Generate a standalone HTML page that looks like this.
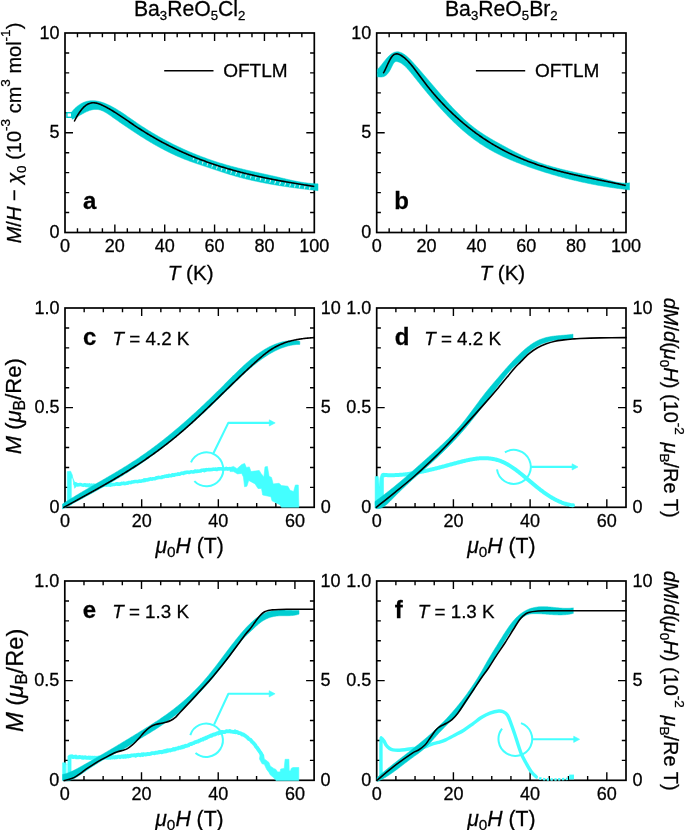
<!DOCTYPE html>
<html><head><meta charset="utf-8"><style>
html,body{margin:0;padding:0;background:#fff;width:685px;height:830px;overflow:hidden}
svg{display:block;will-change:transform}
text{stroke:#000;stroke-width:0.28px;paint-order:stroke}
</style></head><body>
<svg width="685" height="830" viewBox="0 0 685 830" font-family='"Liberation Sans", sans-serif'><rect width="685" height="830" fill="#fff"/><path d="M77.47 232.50v-4.20M77.47 33.00v4.20M89.93 232.50v-4.20M89.93 33.00v4.20M102.40 232.50v-4.20M102.40 33.00v4.20M114.86 232.50v-8.00M114.86 33.00v8.00M127.33 232.50v-4.20M127.33 33.00v4.20M139.79 232.50v-4.20M139.79 33.00v4.20M152.25 232.50v-4.20M152.25 33.00v4.20M164.72 232.50v-8.00M164.72 33.00v8.00M177.19 232.50v-4.20M177.19 33.00v4.20M189.65 232.50v-4.20M189.65 33.00v4.20M202.12 232.50v-4.20M202.12 33.00v4.20M214.58 232.50v-8.00M214.58 33.00v8.00M227.04 232.50v-4.20M227.04 33.00v4.20M239.51 232.50v-4.20M239.51 33.00v4.20M251.97 232.50v-4.20M251.97 33.00v4.20M264.44 232.50v-8.00M264.44 33.00v8.00M276.90 232.50v-4.20M276.90 33.00v4.20M289.37 232.50v-4.20M289.37 33.00v4.20M301.84 232.50v-4.20M301.84 33.00v4.20M65.00 212.55h4.20M314.30 212.55h-4.20M65.00 192.60h4.20M314.30 192.60h-4.20M65.00 172.65h4.20M314.30 172.65h-4.20M65.00 152.70h4.20M314.30 152.70h-4.20M65.00 132.75h8.00M314.30 132.75h-8.00M65.00 112.80h4.20M314.30 112.80h-4.20M65.00 92.85h4.20M314.30 92.85h-4.20M65.00 72.90h4.20M314.30 72.90h-4.20M65.00 52.95h4.20M314.30 52.95h-4.20" stroke="#000" stroke-width="1.4" fill="none"/><rect x="65.00" y="33.00" width="249.30" height="199.50" stroke="#000" stroke-width="1.7" fill="none"/><path d="M389.16 232.50v-4.20M389.16 33.00v4.20M401.63 232.50v-4.20M401.63 33.00v4.20M414.09 232.50v-4.20M414.09 33.00v4.20M426.56 232.50v-8.00M426.56 33.00v8.00M439.02 232.50v-4.20M439.02 33.00v4.20M451.49 232.50v-4.20M451.49 33.00v4.20M463.95 232.50v-4.20M463.95 33.00v4.20M476.42 232.50v-8.00M476.42 33.00v8.00M488.88 232.50v-4.20M488.88 33.00v4.20M501.35 232.50v-4.20M501.35 33.00v4.20M513.82 232.50v-4.20M513.82 33.00v4.20M526.28 232.50v-8.00M526.28 33.00v8.00M538.75 232.50v-4.20M538.75 33.00v4.20M551.21 232.50v-4.20M551.21 33.00v4.20M563.67 232.50v-4.20M563.67 33.00v4.20M576.14 232.50v-8.00M576.14 33.00v8.00M588.61 232.50v-4.20M588.61 33.00v4.20M601.07 232.50v-4.20M601.07 33.00v4.20M613.53 232.50v-4.20M613.53 33.00v4.20M376.70 212.55h4.20M626.00 212.55h-4.20M376.70 192.60h4.20M626.00 192.60h-4.20M376.70 172.65h4.20M626.00 172.65h-4.20M376.70 152.70h4.20M626.00 152.70h-4.20M376.70 132.75h8.00M626.00 132.75h-8.00M376.70 112.80h4.20M626.00 112.80h-4.20M376.70 92.85h4.20M626.00 92.85h-4.20M376.70 72.90h4.20M626.00 72.90h-4.20M376.70 52.95h4.20M626.00 52.95h-4.20" stroke="#000" stroke-width="1.4" fill="none"/><rect x="376.70" y="33.00" width="249.30" height="199.50" stroke="#000" stroke-width="1.7" fill="none"/><path d="M84.17 507.30v-4.20M84.17 308.00v4.20M103.34 507.30v-4.20M103.34 308.00v4.20M122.51 507.30v-4.20M122.51 308.00v4.20M141.68 507.30v-8.00M141.68 308.00v8.00M160.85 507.30v-4.20M160.85 308.00v4.20M180.02 507.30v-4.20M180.02 308.00v4.20M199.18 507.30v-4.20M199.18 308.00v4.20M218.35 507.30v-8.00M218.35 308.00v8.00M237.52 507.30v-4.20M237.52 308.00v4.20M256.69 507.30v-4.20M256.69 308.00v4.20M275.86 507.30v-4.20M275.86 308.00v4.20M295.03 507.30v-8.00M295.03 308.00v8.00M65.00 487.37h4.20M314.20 487.37h-4.20M65.00 467.44h4.20M314.20 467.44h-4.20M65.00 447.51h4.20M314.20 447.51h-4.20M65.00 427.58h4.20M314.20 427.58h-4.20M65.00 407.65h8.00M314.20 407.65h-8.00M65.00 387.72h4.20M314.20 387.72h-4.20M65.00 367.79h4.20M314.20 367.79h-4.20M65.00 347.86h4.20M314.20 347.86h-4.20M65.00 327.93h4.20M314.20 327.93h-4.20" stroke="#000" stroke-width="1.4" fill="none"/><rect x="65.00" y="308.00" width="249.20" height="199.30" stroke="#000" stroke-width="1.7" fill="none"/><path d="M395.88 507.30v-4.20M395.88 308.00v4.20M415.05 507.30v-4.20M415.05 308.00v4.20M434.23 507.30v-4.20M434.23 308.00v4.20M453.41 507.30v-8.00M453.41 308.00v8.00M472.58 507.30v-4.20M472.58 308.00v4.20M491.76 507.30v-4.20M491.76 308.00v4.20M510.94 507.30v-4.20M510.94 308.00v4.20M530.12 507.30v-8.00M530.12 308.00v8.00M549.29 507.30v-4.20M549.29 308.00v4.20M568.47 507.30v-4.20M568.47 308.00v4.20M587.65 507.30v-4.20M587.65 308.00v4.20M606.82 507.30v-8.00M606.82 308.00v8.00M376.70 487.37h4.20M626.00 487.37h-4.20M376.70 467.44h4.20M626.00 467.44h-4.20M376.70 447.51h4.20M626.00 447.51h-4.20M376.70 427.58h4.20M626.00 427.58h-4.20M376.70 407.65h8.00M626.00 407.65h-8.00M376.70 387.72h4.20M626.00 387.72h-4.20M376.70 367.79h4.20M626.00 367.79h-4.20M376.70 347.86h4.20M626.00 347.86h-4.20M376.70 327.93h4.20M626.00 327.93h-4.20" stroke="#000" stroke-width="1.4" fill="none"/><rect x="376.70" y="308.00" width="249.30" height="199.30" stroke="#000" stroke-width="1.7" fill="none"/><path d="M83.98 780.30v-4.20M83.98 581.00v4.20M103.15 780.30v-4.20M103.15 581.00v4.20M122.33 780.30v-4.20M122.33 581.00v4.20M141.51 780.30v-8.00M141.51 581.00v8.00M160.68 780.30v-4.20M160.68 581.00v4.20M179.86 780.30v-4.20M179.86 581.00v4.20M199.04 780.30v-4.20M199.04 581.00v4.20M218.22 780.30v-8.00M218.22 581.00v8.00M237.39 780.30v-4.20M237.39 581.00v4.20M256.57 780.30v-4.20M256.57 581.00v4.20M275.75 780.30v-4.20M275.75 581.00v4.20M294.92 780.30v-8.00M294.92 581.00v8.00M64.80 760.37h4.20M314.10 760.37h-4.20M64.80 740.44h4.20M314.10 740.44h-4.20M64.80 720.51h4.20M314.10 720.51h-4.20M64.80 700.58h4.20M314.10 700.58h-4.20M64.80 680.65h8.00M314.10 680.65h-8.00M64.80 660.72h4.20M314.10 660.72h-4.20M64.80 640.79h4.20M314.10 640.79h-4.20M64.80 620.86h4.20M314.10 620.86h-4.20M64.80 600.93h4.20M314.10 600.93h-4.20" stroke="#000" stroke-width="1.4" fill="none"/><rect x="64.80" y="581.00" width="249.30" height="199.30" stroke="#000" stroke-width="1.7" fill="none"/><path d="M395.88 780.30v-4.20M395.88 581.00v4.20M415.05 780.30v-4.20M415.05 581.00v4.20M434.23 780.30v-4.20M434.23 581.00v4.20M453.41 780.30v-8.00M453.41 581.00v8.00M472.58 780.30v-4.20M472.58 581.00v4.20M491.76 780.30v-4.20M491.76 581.00v4.20M510.94 780.30v-4.20M510.94 581.00v4.20M530.12 780.30v-8.00M530.12 581.00v8.00M549.29 780.30v-4.20M549.29 581.00v4.20M568.47 780.30v-4.20M568.47 581.00v4.20M587.65 780.30v-4.20M587.65 581.00v4.20M606.82 780.30v-8.00M606.82 581.00v8.00M376.70 760.37h4.20M626.00 760.37h-4.20M376.70 740.44h4.20M626.00 740.44h-4.20M376.70 720.51h4.20M626.00 720.51h-4.20M376.70 700.58h4.20M626.00 700.58h-4.20M376.70 680.65h8.00M626.00 680.65h-8.00M376.70 660.72h4.20M626.00 660.72h-4.20M376.70 640.79h4.20M626.00 640.79h-4.20M376.70 620.86h4.20M626.00 620.86h-4.20M376.70 600.93h4.20M626.00 600.93h-4.20" stroke="#000" stroke-width="1.4" fill="none"/><rect x="376.70" y="581.00" width="249.30" height="199.30" stroke="#000" stroke-width="1.7" fill="none"/><path d="M67.30 505.00 L67.30 471.60 L70.60 471.20 L72.30 475.00 L73.60 483.00 L74.60 488.30 L76.30 486.60 L76.30 482.60 L74.80 482.40 L72.20 477.00 L71.30 479.00 L71.30 505.00Z" fill="#44FFFF" stroke="#44FFFF" stroke-width="0.6" stroke-linejoin="round"/><path d="M75.00 483.86 L75.75 484.58 L76.50 484.36 L77.26 484.70 L78.01 485.01 L78.76 484.68 L79.51 484.72 L80.27 484.40 L81.02 484.64 L81.77 484.91 L82.52 485.13 L83.28 485.29 L84.03 484.96 L84.78 484.72 L85.53 484.96 L86.29 485.56 L87.04 484.96 L87.79 485.21 L88.54 485.67 L89.30 484.88 L90.05 485.41 L90.80 485.75 L91.55 485.11 L92.31 485.41 L93.06 485.74 L93.81 485.05 L94.56 485.40 L95.32 485.60 L96.07 485.52 L96.82 485.33 L97.57 485.09 L98.33 485.33 L99.08 485.21 L99.83 485.28 L100.58 485.16 L101.33 485.56 L102.09 485.47 L102.84 485.03 L103.59 485.23 L104.34 484.92 L105.10 485.04 L105.85 484.91 L106.60 485.14 L107.35 484.84 L108.11 484.87 L108.86 485.05 L109.61 484.72 L110.36 485.11 L111.12 484.40 L111.87 484.84 L112.62 484.49 L113.37 484.43 L114.13 484.55 L114.88 484.38 L115.63 484.21 L116.38 483.76 L117.14 483.77 L117.89 484.24 L118.64 483.99 L119.39 484.07 L120.15 484.22 L120.90 483.88 L121.65 483.23 L122.40 483.37 L123.16 483.53 L123.91 483.12 L124.66 483.68 L125.41 483.56 L126.17 483.38 L126.92 482.94 L127.67 483.17 L128.42 482.42 L129.17 482.48 L129.93 482.51 L130.68 482.65 L131.43 482.31 L132.18 481.89 L132.94 481.96 L133.69 481.83 L134.44 481.69 L135.19 481.45 L135.95 481.56 L136.70 481.47 L137.45 481.65 L138.20 481.54 L138.96 481.18 L139.71 481.00 L140.46 481.16 L141.21 481.13 L141.97 480.81 L142.72 480.80 L143.47 480.80 L144.22 479.86 L144.98 480.48 L145.73 479.81 L146.48 479.86 L147.23 480.02 L147.99 479.81 L148.74 479.17 L149.49 479.49 L150.24 478.83 L151.00 478.95 L151.75 479.23 L152.50 478.74 L153.25 478.76 L154.00 478.74 L154.76 478.69 L155.51 478.49 L156.26 477.68 L157.01 477.91 L157.77 477.81 L158.52 477.31 L159.27 477.61 L160.02 477.53 L160.78 477.59 L161.53 477.55 L162.28 476.68 L163.03 476.63 L163.79 476.88 L164.54 476.26 L165.29 476.21 L166.04 476.39 L166.80 475.88 L167.55 476.30 L168.30 476.22 L169.05 475.35 L169.81 475.66 L170.56 475.76 L171.31 475.78 L172.06 475.02 L172.82 474.78 L173.57 475.29 L174.32 475.18 L175.07 474.41 L175.83 474.49 L176.58 474.61 L177.33 474.59 L178.08 473.85 L178.83 474.17 L179.59 474.16 L180.34 473.80 L181.09 473.33 L181.84 473.08 L182.60 473.18 L183.35 473.53 L184.10 472.72 L184.85 472.56 L185.61 472.75 L186.36 472.37 L187.11 472.32 L187.86 472.09 L188.62 472.42 L189.37 472.46 L190.12 472.10 L190.87 471.72 L191.63 471.79 L192.38 471.91 L193.13 472.12 L193.88 472.05 L194.64 471.27 L195.39 470.96 L196.14 471.59 L196.89 471.57 L197.65 471.05 L198.40 471.23 L199.15 471.22 L199.90 470.89 L200.66 471.04 L201.41 470.18 L202.16 470.31 L202.91 470.23 L203.67 470.00 L204.42 470.63 L205.17 469.75 L205.92 470.25 L206.67 469.63 L207.43 469.81 L208.18 469.79 L208.93 469.50 L209.68 469.73 L210.44 469.68 L211.19 469.42 L211.94 469.73 L212.69 469.15 L213.45 469.12 L214.20 469.21 L214.95 469.17 L215.70 468.97 L216.46 469.56 L217.21 469.43 L217.96 468.73 L218.71 468.93 L219.47 468.76 L220.22 468.92 L220.97 468.73 L221.72 468.90 L222.48 469.25 L223.23 468.74 L223.98 468.96 L224.73 468.89 L225.49 469.01 L226.24 468.38 L226.99 468.98 L227.74 469.15 L228.50 468.84 L229.25 468.55 L230.00 468.90" stroke="#44FFFF" stroke-width="3.5" fill="none" stroke-linejoin="round" stroke-linecap="round" /><path d="M230.00 467.50 L233.50 466.40 L237.00 468.70 L241.70 464.60 L244.60 463.40 L246.40 467.50 L249.30 466.90 L251.00 471.60 L259.20 470.40 L261.00 473.40 L263.90 476.90 L265.00 466.90 L267.40 466.40 L269.10 476.30 L271.50 477.40 L273.20 483.90 L279.00 483.30 L281.40 485.60 L287.80 486.20 L290.10 490.30 L293.60 491.50 L295.40 485.00 L298.30 485.00 L298.90 507.20 L281.40 507.20 L280.20 504.90 L272.00 500.80 L270.90 496.70 L262.70 495.00 L261.50 488.50 L258.00 488.50 L255.10 483.90 L248.70 480.40 L246.90 486.20 L244.60 486.80 L243.40 476.90 L241.70 473.40 L237.60 473.90 L233.50 471.60 L230.00 471.60Z" fill="#44FFFF" stroke="#44FFFF" stroke-width="0.6" stroke-linejoin="round"/><path d="M191.00 462.35 A16.9 16.9 0 1 1 194.35 481.15" stroke="#44FFFF" stroke-width="2.0" fill="none"/><path d="M213.30 453.50 L228.30 422.90 L269.80 422.90" stroke="#44FFFF" stroke-width="2.1" fill="none" stroke-linejoin="round" stroke-linecap="butt" /><path d="M269.30 426.00 L275.20 422.90 L269.30 419.80 Z" fill="#44FFFF" stroke="#44FFFF" stroke-width="0.6" stroke-linejoin="round"/><path d="M375.20 505.00 L375.20 476.50 L378.20 476.50 L379.30 487.50 L379.90 478.00 L381.40 474.00 L384.20 473.00 L384.20 477.30 L383.50 477.60 L383.50 503.00 L378.50 505.00Z" fill="#44FFFF" stroke="#44FFFF" stroke-width="0.6" stroke-linejoin="round"/><path d="M383.20 474.91 L383.95 474.97 L384.70 475.01 L385.45 475.05 L386.20 475.09 L386.95 475.12 L387.70 475.15 L388.45 475.17 L389.20 475.18 L389.95 475.19 L390.70 475.19 L391.45 475.19 L392.20 475.19 L392.95 475.18 L393.70 475.16 L394.45 475.14 L395.20 475.12 L395.95 475.09 L396.70 475.05 L397.45 475.01 L398.20 474.97 L398.95 474.92 L399.70 474.87 L400.45 474.81 L401.20 474.75 L401.95 474.69 L402.71 474.62 L403.46 474.54 L404.21 474.47 L404.96 474.39 L405.71 474.30 L406.46 474.21 L407.21 474.12 L407.96 474.02 L408.71 473.92 L409.46 473.82 L410.21 473.71 L410.96 473.60 L411.71 473.49 L412.46 473.37 L413.21 473.25 L413.96 473.13 L414.71 473.00 L415.46 472.87 L416.21 472.74 L416.96 472.61 L417.71 472.47 L418.46 472.33 L419.21 472.18 L419.96 472.04 L420.71 471.89 L421.46 471.74 L422.21 471.58 L422.96 471.43 L423.71 471.27 L424.46 471.11 L425.21 470.94 L425.96 470.78 L426.71 470.61 L427.46 470.44 L428.21 470.27 L428.96 470.09 L429.71 469.92 L430.46 469.74 L431.21 469.56 L431.96 469.38 L432.71 469.20 L433.46 469.01 L434.21 468.83 L434.96 468.64 L435.71 468.45 L436.46 468.26 L437.21 468.07 L437.96 467.88 L438.71 467.69 L439.46 467.49 L440.22 467.30 L440.97 467.10 L441.72 466.90 L442.47 466.70 L443.22 466.51 L443.97 466.31 L444.72 466.11 L445.47 465.90 L446.22 465.70 L446.97 465.50 L447.72 465.30 L448.47 465.10 L449.22 464.90 L449.97 464.69 L450.72 464.49 L451.47 464.29 L452.22 464.08 L452.97 463.88 L453.72 463.68 L454.47 463.48 L455.22 463.27 L455.97 463.07 L456.72 462.87 L457.47 462.67 L458.22 462.47 L458.97 462.27 L459.72 462.08 L460.47 461.88 L461.22 461.69 L461.97 461.50 L462.72 461.31 L463.47 461.13 L464.22 460.95 L464.97 460.77 L465.72 460.59 L466.47 460.42 L467.22 460.26 L467.97 460.10 L468.72 459.94 L469.47 459.79 L470.22 459.64 L470.97 459.50 L471.72 459.36 L472.47 459.23 L473.22 459.11 L473.97 458.99 L474.72 458.88 L475.47 458.78 L476.22 458.68 L476.97 458.59 L477.72 458.51 L478.48 458.44 L479.23 458.37 L479.98 458.32 L480.73 458.27 L481.48 458.23 L482.23 458.20 L482.98 458.18 L483.73 458.17 L484.48 458.17 L485.23 458.18 L485.98 458.20 L486.73 458.24 L487.48 458.28 L488.23 458.33 L488.98 458.40 L489.73 458.47 L490.48 458.56 L491.23 458.66 L491.98 458.78 L492.73 458.91 L493.48 459.05 L494.23 459.20 L494.98 459.37 L495.73 459.55 L496.48 459.74 L497.23 459.95 L497.98 460.17 L498.73 460.41 L499.48 460.67 L500.23 460.93 L500.98 461.22 L501.73 461.52 L502.48 461.84 L503.23 462.17 L503.98 462.52 L504.73 462.88 L505.48 463.26 L506.23 463.66 L506.98 464.07 L507.73 464.50 L508.48 464.94 L509.23 465.39 L509.98 465.85 L510.73 466.33 L511.48 466.82 L512.23 467.32 L512.98 467.83 L513.73 468.35 L514.48 468.88 L515.23 469.43 L515.98 469.98 L516.74 470.53 L517.49 471.10 L518.24 471.67 L518.99 472.26 L519.74 472.84 L520.49 473.44 L521.24 474.04 L521.99 474.64 L522.74 475.25 L523.49 475.87 L524.24 476.48 L524.99 477.11 L525.74 477.73 L526.49 478.36 L527.24 478.98 L527.99 479.61 L528.74 480.24 L529.49 480.87 L530.24 481.50 L530.99 482.13 L531.74 482.76 L532.49 483.39 L533.24 484.02 L533.99 484.64 L534.74 485.26 L535.49 485.88 L536.24 486.49 L536.99 487.10 L537.74 487.71 L538.49 488.31 L539.24 488.90 L539.99 489.49 L540.74 490.07 L541.49 490.64 L542.24 491.21 L542.99 491.76 L543.74 492.31 L544.49 492.85 L545.24 493.38 L545.99 493.91 L546.74 494.42 L547.49 494.93 L548.24 495.42 L548.99 495.91 L549.74 496.38 L550.49 496.85 L551.24 497.30 L551.99 497.74 L552.74 498.18 L553.49 498.60 L554.25 499.01 L555.00 499.42 L555.75 499.81 L556.50 500.19 L557.25 500.55 L558.00 500.91 L558.75 501.25 L559.50 501.58 L560.25 501.90 L561.00 502.21 L561.75 502.51 L562.50 502.79 L563.25 503.06 L564.00 503.31 L564.75 503.55 L565.50 503.78 L566.25 504.00 L567.00 504.20 L567.75 504.39 L568.50 504.56 L569.25 504.72 L570.00 504.87 L570.75 505.00 L571.50 505.11 L572.25 505.21 L573.00 505.30" stroke="#44FFFF" stroke-width="4.0" fill="none" stroke-linejoin="round" stroke-linecap="round" /><path d="M504.92 452.41 A17.0 17.0 0 1 1 496.99 469.44" stroke="#44FFFF" stroke-width="2.0" fill="none"/><path d="M530.80 466.90 L572.60 466.90" stroke="#44FFFF" stroke-width="2.1" fill="none" stroke-linejoin="round" stroke-linecap="butt" /><path d="M572.10 470.00 L578.00 466.90 L572.10 463.80 Z" fill="#44FFFF" stroke="#44FFFF" stroke-width="0.6" stroke-linejoin="round"/><path d="M62.60 780.00 L62.60 762.80 L65.80 762.80 L65.80 764.30 L67.90 764.30 L67.90 756.00 L70.00 754.80 L72.00 755.50 L71.10 759.00 L71.10 776.00 L67.90 778.00 L65.80 780.00Z" fill="#44FFFF" stroke="#44FFFF" stroke-width="0.6" stroke-linejoin="round"/><rect x="65.8" y="764.3" width="2.1" height="14" fill="#aaffff"/><path d="M70.50 756.61 L71.25 756.64 L72.00 756.26 L72.75 757.09 L73.50 757.15 L74.25 756.74 L75.01 756.96 L75.76 756.53 L76.51 757.45 L77.26 757.36 L78.01 757.26 L78.76 757.42 L79.51 756.96 L80.26 757.12 L81.01 757.12 L81.76 757.48 L82.52 757.07 L83.27 757.83 L84.02 757.48 L84.77 757.50 L85.52 757.22 L86.27 757.78 L87.02 757.92 L87.77 757.78 L88.52 757.46 L89.27 757.97 L90.03 757.41 L90.78 758.04 L91.53 757.83 L92.28 757.58 L93.03 757.79 L93.78 757.90 L94.53 757.58 L95.28 758.11 L96.03 757.73 L96.78 758.15 L97.54 758.09 L98.29 757.43 L99.04 757.91 L99.79 757.60 L100.54 757.99 L101.29 757.78 L102.04 757.69 L102.79 758.07 L103.54 757.29 L104.29 757.72 L105.05 757.49 L105.80 757.20 L106.55 757.82 L107.30 757.62 L108.05 757.89 L108.80 757.59 L109.55 757.32 L110.30 757.87 L111.05 757.05 L111.80 756.95 L112.55 757.52 L113.31 757.15 L114.06 757.10 L114.81 757.52 L115.56 756.98 L116.31 757.43 L117.06 757.16 L117.81 756.83 L118.56 756.53 L119.31 756.64 L120.06 757.24 L120.82 756.68 L121.57 756.40 L122.32 756.46 L123.07 756.94 L123.82 756.22 L124.57 756.70 L125.32 756.06 L126.07 756.74 L126.82 756.28 L127.57 755.77 L128.33 756.50 L129.08 755.91 L129.83 756.18 L130.58 755.92 L131.33 755.46 L132.08 755.39 L132.83 755.35 L133.58 755.29 L134.33 755.11 L135.08 755.03 L135.84 755.76 L136.59 754.90 L137.34 755.20 L138.09 754.76 L138.84 754.77 L139.59 755.18 L140.34 755.25 L141.09 754.74 L141.84 754.24 L142.59 755.04 L143.35 754.10 L144.10 754.31 L144.85 754.36 L145.60 754.58 L146.35 754.43 L147.10 754.14 L147.85 753.85 L148.60 754.15 L149.35 754.08 L150.10 753.98 L150.85 753.74 L151.61 753.08 L152.36 753.16 L153.11 753.22 L153.86 753.12 L154.61 753.31 L155.36 752.66 L156.11 752.93 L156.86 752.55 L157.61 752.79 L158.36 752.15 L159.12 752.28 L159.87 751.82 L160.62 751.79 L161.37 752.31 L162.12 751.61 L162.87 752.00 L163.62 751.53 L164.37 750.95 L165.12 751.48 L165.87 750.67 L166.63 751.22 L167.38 750.33 L168.13 750.77 L168.88 750.16 L169.63 750.15 L170.38 750.54 L171.13 749.95 L171.88 749.93 L172.63 749.83 L173.38 749.08 L174.14 749.56 L174.89 749.44 L175.64 748.57 L176.39 748.73 L177.14 748.29 L177.89 748.51 L178.64 747.66 L179.39 747.89 L180.14 747.93 L180.89 747.66 L181.65 746.87 L182.40 747.30 L183.15 746.54 L183.90 746.82 L184.65 746.30 L185.40 745.76 L186.15 746.03 L186.90 745.84 L187.65 745.49 L188.40 745.47 L189.15 744.56 L189.91 744.28 L190.66 743.92 L191.41 744.00 L192.16 743.59 L192.91 743.26 L193.66 743.06 L194.41 742.59 L195.16 742.04 L195.91 742.15 L196.66 741.66 L197.42 741.50 L198.17 741.61 L198.92 740.61 L199.67 740.69 L200.42 740.37 L201.17 739.71 L201.92 739.55 L202.67 739.66 L203.42 738.77 L204.17 738.77 L204.93 738.55 L205.68 737.79 L206.43 738.03 L207.18 737.37 L207.93 736.94 L208.68 736.81 L209.43 736.24 L210.18 736.19 L210.93 735.49 L211.68 735.78 L212.44 735.14 L213.19 734.58 L213.94 734.48 L214.69 734.62 L215.44 734.27 L216.19 733.73 L216.94 733.36 L217.69 733.15 L218.44 733.47 L219.19 732.47 L219.95 732.97 L220.70 732.75 L221.45 732.00 L222.20 731.95 L222.95 731.99 L223.70 732.06 L224.45 732.07 L225.20 732.00 L225.95 731.27 L226.70 731.11 L227.45 731.31 L228.21 731.33 L228.96 731.39 L229.71 730.89 L230.46 731.39 L231.21 731.66 L231.96 731.70 L232.71 731.80 L233.46 731.87 L234.21 732.01 L234.96 731.32 L235.72 732.26 L236.47 731.85 L237.22 732.10 L237.97 732.44 L238.72 733.14 L239.47 733.10 L240.22 733.17 L240.97 733.51 L241.72 734.33 L242.47 734.64 L243.23 734.42 L243.98 734.95 L244.73 735.52 L245.48 735.87 L246.23 736.70 L246.98 736.94 L247.73 737.84 L248.48 738.77 L249.23 739.33 L249.98 739.33 L250.74 740.13 L251.49 741.05 L252.24 742.03 L252.99 742.61 L253.74 743.32 L254.49 744.28 L255.24 745.06 L255.99 746.60 L256.74 747.44 L257.49 748.20 L258.25 749.51 L259.00 750.45 L259.75 751.59 L260.50 752.62 L261.25 753.94 L262.00 755.64" stroke="#44FFFF" stroke-width="3.8" fill="none" stroke-linejoin="round" stroke-linecap="round" /><path d="M260.50 752.00 L262.00 752.60 L263.80 755.50 L264.30 759.00 L266.10 760.20 L269.00 762.50 L270.20 766.00 L273.70 768.40 L276.00 769.50 L277.50 771.90 L280.10 771.90 L280.70 769.00 L284.20 768.40 L285.10 759.30 L288.90 759.30 L289.20 770.70 L290.60 770.70 L291.20 768.40 L293.00 767.50 L298.80 767.50 L298.80 780.60 L276.00 780.60 L273.70 777.70 L270.20 774.80 L269.00 772.40 L266.70 769.50 L264.30 764.30 L262.00 763.70 L259.50 759.00Z" fill="#44FFFF" stroke="#44FFFF" stroke-width="0.6" stroke-linejoin="round"/><path d="M190.28 735.15 A16.7 16.7 0 1 1 195.49 753.01" stroke="#44FFFF" stroke-width="2.0" fill="none"/><path d="M214.10 724.60 L228.40 693.80 L269.70 693.80" stroke="#44FFFF" stroke-width="2.1" fill="none" stroke-linejoin="round" stroke-linecap="butt" /><path d="M269.20 696.90 L275.10 693.80 L269.20 690.70 Z" fill="#44FFFF" stroke="#44FFFF" stroke-width="0.6" stroke-linejoin="round"/><path d="M381.00 778.00 C381.00 772.00 380.87 748.60 381.00 742.00 C381.13 735.40 381.30 738.57 381.80 738.40 C382.30 738.23 383.27 739.87 384.00 741.00 C384.73 742.13 385.27 743.95 386.20 745.20 C387.13 746.45 388.48 747.72 389.60 748.50 C390.72 749.28 391.25 749.62 392.90 749.90 C394.55 750.18 397.30 750.27 399.50 750.20 C401.70 750.13 403.85 749.78 406.10 749.50 C408.35 749.22 410.68 748.78 413.00 748.50 C415.32 748.22 417.97 748.05 420.00 747.80 C422.03 747.55 423.22 747.62 425.20 747.00 C427.18 746.38 429.68 744.87 431.90 744.10 C434.12 743.33 436.30 743.07 438.50 742.40 C440.70 741.73 442.35 741.33 445.10 740.10 C447.85 738.87 451.88 736.65 455.00 735.00 C458.12 733.35 460.88 732.02 463.80 730.20 C466.72 728.38 469.58 726.22 472.50 724.10 C475.42 721.98 478.38 719.33 481.30 717.50 C484.22 715.67 487.08 714.18 490.00 713.10 C492.92 712.02 496.60 711.22 498.80 711.00 C501.00 710.78 501.75 711.08 503.20 711.80 C504.65 712.52 506.20 713.33 507.50 715.30 C508.80 717.27 509.75 720.32 511.00 723.60 C512.25 726.88 513.37 730.17 515.00 735.00 C516.63 739.83 518.95 747.92 520.80 752.60 C522.65 757.28 524.35 759.90 526.10 763.10 C527.85 766.30 529.65 769.55 531.30 771.80 C532.95 774.05 535.22 775.80 536.00 776.60" stroke="#44FFFF" stroke-width="3.4" fill="none" stroke-linejoin="round" stroke-linecap="round" /><path d="M536.00 776.60 C536.38 776.83 536.45 777.53 538.30 778.00 C540.15 778.47 543.88 779.17 547.10 779.40 C550.32 779.63 554.10 779.50 557.60 779.40 C561.10 779.30 566.35 778.90 568.10 778.80" stroke="#44FFFF" stroke-width="2.6" fill="none" stroke-linejoin="round" stroke-linecap="butt" stroke-dasharray="2.2 1.6"/><rect x="569.2" y="774.6" width="4.8" height="4.8" fill="#44FFFF"/><path d="M520.97 723.17 A16.85 16.85 0 1 1 502.07 728.68" stroke="#44FFFF" stroke-width="2.0" fill="none"/><path d="M532.20 739.30 L574.20 739.30" stroke="#44FFFF" stroke-width="2.1" fill="none" stroke-linejoin="round" stroke-linecap="butt" /><path d="M573.70 742.40 L579.60 739.30 L573.70 736.20 Z" fill="#44FFFF" stroke="#44FFFF" stroke-width="0.6" stroke-linejoin="round"/><path d="M72.00 111.53 L72.75 110.67 L73.50 109.84 L74.25 109.06 L75.00 108.31 L75.75 107.61 L76.50 106.94 L77.25 106.32 L78.00 105.73 L78.75 105.17 L79.50 104.66 L80.25 104.17 L81.00 103.73 L81.75 103.31 L82.50 102.93 L83.25 102.58 L84.00 102.27 L84.75 101.98 L85.50 101.73 L86.25 101.50 L87.00 101.31 L87.75 101.14 L88.50 101.00 L89.25 100.88 L90.00 100.79 L90.75 100.73 L91.50 100.69 L92.25 100.67 L93.00 100.68 L93.75 100.71 L94.50 100.76 L95.25 100.84 L96.00 100.93 L96.75 101.04 L97.50 101.17 L98.25 101.32 L99.00 101.49 L99.75 101.67 L100.50 101.87 L101.25 102.08 L102.00 102.31 L102.75 102.55 L103.50 102.81 L104.25 103.08 L105.00 103.37 L105.75 103.67 L106.50 103.98 L107.25 104.30 L108.00 104.64 L108.75 104.99 L109.50 105.35 L110.25 105.72 L111.00 106.10 L111.75 106.49 L112.50 106.89 L113.25 107.30 L114.00 107.72 L114.75 108.15 L115.50 108.59 L116.25 109.03 L117.00 109.49 L117.75 109.95 L118.50 110.41 L119.25 110.88 L120.00 111.36 L120.75 111.85 L121.50 112.34 L122.25 112.83 L123.00 113.33 L123.75 113.83 L124.50 114.34 L125.25 114.85 L126.00 115.36 L126.75 115.88 L127.50 116.39 L128.25 116.91 L129.00 117.43 L129.75 117.95 L130.50 118.48 L131.25 119.00 L132.00 119.52 L132.75 120.04 L133.50 120.56 L134.25 121.08 L135.00 121.60 L135.75 122.11 L136.50 122.63 L137.25 123.14 L138.00 123.65 L138.75 124.15 L139.50 124.65 L140.25 125.15 L141.00 125.65 L141.75 126.14 L142.50 126.63 L143.25 127.11 L144.00 127.60 L144.75 128.08 L145.50 128.56 L146.25 129.03 L147.00 129.50 L147.75 129.97 L148.50 130.44 L149.25 130.90 L150.00 131.36 L150.75 131.82 L151.50 132.27 L152.25 132.72 L153.00 133.17 L153.75 133.62 L154.50 134.06 L155.25 134.50 L156.00 134.94 L156.75 135.37 L157.50 135.81 L158.25 136.24 L159.00 136.66 L159.75 137.09 L160.50 137.51 L161.25 137.93 L162.00 138.34 L162.75 138.75 L163.50 139.16 L164.25 139.57 L165.00 139.98 L165.75 140.38 L166.50 140.78 L167.25 141.17 L168.00 141.57 L168.75 141.96 L169.50 142.35 L170.25 142.74 L171.00 143.12 L171.75 143.50 L172.50 143.88 L173.25 144.25 L174.00 144.63 L174.75 145.00 L175.50 145.37 L176.25 145.73 L177.00 146.09 L177.75 146.45 L178.50 146.81 L179.25 147.17 L180.00 147.52 L180.75 147.87 L181.50 148.22 L182.25 148.57 L183.00 148.91 L183.75 149.25 L184.50 149.59 L185.25 149.92 L186.00 150.26 L186.75 150.59 L187.50 150.92 L188.25 151.24 L189.00 151.57 L189.75 151.89 L190.50 152.21 L191.25 152.52 L192.00 152.84 L192.75 153.15 L193.50 153.46 L194.25 153.77 L195.00 154.07 L195.75 154.37 L196.50 154.67 L197.25 154.97 L198.00 155.27 L198.75 155.56 L199.50 155.85 L200.25 156.14 L201.00 156.43 L201.75 156.71 L202.50 156.99 L203.25 157.27 L204.00 157.55 L204.75 157.83 L205.50 158.10 L206.25 158.37 L207.00 158.64 L207.75 158.91 L208.50 159.17 L209.25 159.44 L210.00 159.70 L210.75 159.96 L211.50 160.21 L212.25 160.47 L213.00 160.72 L213.75 160.97 L214.50 161.22 L215.25 161.46 L216.00 161.71 L216.75 161.95 L217.50 162.19 L218.25 162.43 L219.00 162.66 L219.75 162.90 L220.50 163.13 L221.25 163.36 L222.00 163.59 L222.75 163.81 L223.50 164.04 L224.25 164.26 L225.00 164.48 L225.75 164.70 L226.50 164.92 L227.25 165.13 L228.00 165.34 L228.75 165.55 L229.50 165.76 L230.25 165.97 L231.00 166.17 L231.75 166.38 L232.50 166.58 L233.25 166.78 L234.00 166.98 L234.75 167.17 L235.50 167.37 L236.25 167.56 L237.00 167.75 L237.75 167.94 L238.50 168.13 L239.25 168.32 L240.00 168.51 L240.75 168.69 L241.50 168.87 L242.25 169.06 L243.00 169.24 L243.75 169.42 L244.50 169.60 L245.25 169.77 L246.00 169.95 L246.75 170.13 L247.50 170.30 L248.25 170.48 L249.00 170.65 L249.75 170.82 L250.50 170.99 L251.25 171.16 L252.00 171.33 L252.75 171.50 L253.50 171.67 L254.25 171.84 L255.00 172.01 L255.75 172.18 L256.50 172.34 L257.25 172.51 L258.00 172.68 L258.75 172.84 L259.50 173.01 L260.25 173.17 L261.00 173.34 L261.75 173.50 L262.50 173.67 L263.25 173.83 L264.00 174.00 L264.75 174.17 L265.50 174.33 L266.25 174.50 L267.00 174.66 L267.75 174.83 L268.50 174.99 L269.25 175.16 L270.00 175.33 L270.75 175.49 L271.50 175.66 L272.25 175.83 L273.00 176.00 L273.75 176.16 L274.50 176.33 L275.25 176.50 L276.00 176.67 L276.75 176.85 L277.50 177.02 L278.25 177.19 L279.00 177.36 L279.75 177.54 L280.50 177.71 L281.25 177.89 L282.00 178.07 L282.75 178.24 L283.50 178.42 L284.25 178.60 L285.00 178.78 L285.75 178.95 L286.50 179.13 L287.25 179.30 L288.00 179.48 L288.75 179.65 L289.50 179.82 L290.25 179.99 L291.00 180.16 L291.75 180.33 L292.50 180.49 L293.25 180.65 L294.00 180.81 L294.75 180.97 L295.50 181.12 L296.25 181.27 L297.00 181.42 L297.75 181.56 L298.50 181.70 L299.25 181.83 L300.00 181.96 L300.75 182.09 L301.50 182.21 L302.25 182.33 L303.00 182.45 L303.75 182.56 L304.50 182.67 L305.25 182.77 L306.00 182.87 L306.75 182.96 L307.50 183.05 L308.25 183.14 L309.00 183.22 L309.75 183.30 L310.50 183.37 L311.25 183.44 L312.00 183.51 L312.75 183.57 L313.50 183.62 L314.25 183.67 L315.00 183.72 L315.75 183.76 L316.50 183.80 L317.25 183.83 L318.00 183.86 L318.00 190.66 L317.25 190.57 L316.50 190.49 L315.75 190.41 L315.00 190.32 L314.25 190.24 L313.50 190.15 L312.75 190.07 L312.00 189.98 L311.25 189.89 L310.50 189.81 L309.75 189.72 L309.00 189.63 L308.25 189.54 L307.50 189.46 L306.75 189.37 L306.00 189.28 L305.25 189.19 L304.50 189.09 L303.75 189.00 L303.00 188.91 L302.25 188.82 L301.50 188.72 L300.75 188.63 L300.00 188.54 L299.25 188.44 L298.50 188.34 L297.75 188.25 L297.00 188.15 L296.25 188.05 L295.50 187.95 L294.75 187.85 L294.00 187.75 L293.25 187.65 L292.50 187.55 L291.75 187.45 L291.00 187.34 L290.25 187.24 L289.50 187.13 L288.75 187.03 L288.00 186.92 L287.25 186.81 L286.50 186.70 L285.75 186.59 L285.00 186.48 L284.25 186.37 L283.50 186.25 L282.75 186.14 L282.00 186.02 L281.25 185.91 L280.50 185.79 L279.75 185.67 L279.00 185.55 L278.25 185.43 L277.50 185.31 L276.75 185.19 L276.00 185.06 L275.25 184.94 L274.50 184.81 L273.75 184.68 L273.00 184.55 L272.25 184.42 L271.50 184.29 L270.75 184.16 L270.00 184.02 L269.25 183.89 L268.50 183.75 L267.75 183.61 L267.00 183.47 L266.25 183.33 L265.50 183.19 L264.75 183.05 L264.00 182.90 L263.25 182.76 L262.50 182.61 L261.75 182.46 L261.00 182.31 L260.25 182.16 L259.50 182.00 L258.75 181.85 L258.00 181.69 L257.25 181.53 L256.50 181.37 L255.75 181.21 L255.00 181.05 L254.25 180.88 L253.50 180.71 L252.75 180.55 L252.00 180.38 L251.25 180.20 L250.50 180.03 L249.75 179.86 L249.00 179.68 L248.25 179.50 L247.50 179.32 L246.75 179.14 L246.00 178.96 L245.25 178.77 L244.50 178.58 L243.75 178.39 L243.00 178.20 L242.25 178.01 L241.50 177.81 L240.75 177.62 L240.00 177.42 L239.25 177.22 L238.50 177.01 L237.75 176.81 L237.00 176.60 L236.25 176.39 L235.50 176.18 L234.75 175.97 L234.00 175.76 L233.25 175.54 L232.50 175.32 L231.75 175.10 L231.00 174.88 L230.25 174.65 L229.50 174.42 L228.75 174.19 L228.00 173.96 L227.25 173.73 L226.50 173.49 L225.75 173.26 L225.00 173.02 L224.25 172.78 L223.50 172.54 L222.75 172.29 L222.00 172.05 L221.25 171.80 L220.50 171.56 L219.75 171.31 L219.00 171.06 L218.25 170.82 L217.50 170.57 L216.75 170.32 L216.00 170.07 L215.25 169.82 L214.50 169.57 L213.75 169.32 L213.00 169.07 L212.25 168.82 L211.50 168.57 L210.75 168.32 L210.00 168.07 L209.25 167.82 L208.50 167.57 L207.75 167.32 L207.00 167.08 L206.25 166.83 L205.50 166.58 L204.75 166.33 L204.00 166.09 L203.25 165.84 L202.50 165.59 L201.75 165.34 L201.00 165.09 L200.25 164.84 L199.50 164.59 L198.75 164.33 L198.00 164.08 L197.25 163.82 L196.50 163.57 L195.75 163.31 L195.00 163.05 L194.25 162.79 L193.50 162.52 L192.75 162.26 L192.00 161.99 L191.25 161.72 L190.50 161.45 L189.75 161.18 L189.00 160.90 L188.25 160.62 L187.50 160.34 L186.75 160.06 L186.00 159.77 L185.25 159.48 L184.50 159.19 L183.75 158.89 L183.00 158.59 L182.25 158.29 L181.50 157.98 L180.75 157.67 L180.00 157.35 L179.25 157.04 L178.50 156.71 L177.75 156.39 L177.00 156.06 L176.25 155.72 L175.50 155.39 L174.75 155.05 L174.00 154.70 L173.25 154.35 L172.50 154.00 L171.75 153.65 L171.00 153.29 L170.25 152.92 L169.50 152.56 L168.75 152.19 L168.00 151.82 L167.25 151.44 L166.50 151.06 L165.75 150.68 L165.00 150.29 L164.25 149.90 L163.50 149.51 L162.75 149.11 L162.00 148.72 L161.25 148.31 L160.50 147.91 L159.75 147.50 L159.00 147.09 L158.25 146.68 L157.50 146.26 L156.75 145.84 L156.00 145.42 L155.25 144.99 L154.50 144.56 L153.75 144.13 L153.00 143.70 L152.25 143.26 L151.50 142.82 L150.75 142.38 L150.00 141.94 L149.25 141.49 L148.50 141.04 L147.75 140.59 L147.00 140.14 L146.25 139.68 L145.50 139.22 L144.75 138.76 L144.00 138.29 L143.25 137.83 L142.50 137.36 L141.75 136.89 L141.00 136.42 L140.25 135.94 L139.50 135.46 L138.75 134.98 L138.00 134.50 L137.25 134.02 L136.50 133.53 L135.75 133.05 L135.00 132.56 L134.25 132.07 L133.50 131.57 L132.75 131.08 L132.00 130.58 L131.25 130.08 L130.50 129.58 L129.75 129.08 L129.00 128.58 L128.25 128.07 L127.50 127.57 L126.75 127.06 L126.00 126.55 L125.25 126.04 L124.50 125.52 L123.75 125.01 L123.00 124.49 L122.25 123.97 L121.50 123.46 L120.75 122.94 L120.00 122.41 L119.25 121.89 L118.50 121.37 L117.75 120.84 L117.00 120.32 L116.25 119.79 L115.50 119.26 L114.75 118.73 L114.00 118.20 L113.25 117.67 L112.50 117.13 L111.75 116.60 L111.00 116.07 L110.25 115.54 L109.50 115.02 L108.75 114.50 L108.00 114.00 L107.25 113.51 L106.50 113.04 L105.75 112.59 L105.00 112.15 L104.25 111.74 L103.50 111.36 L102.75 111.00 L102.00 110.67 L101.25 110.38 L100.50 110.12 L99.75 109.90 L99.00 109.72 L98.25 109.58 L97.50 109.48 L96.75 109.42 L96.00 109.39 L95.25 109.40 L94.50 109.44 L93.75 109.52 L93.00 109.63 L92.25 109.77 L91.50 109.94 L90.75 110.14 L90.00 110.36 L89.25 110.61 L88.50 110.89 L87.75 111.19 L87.00 111.51 L86.25 111.85 L85.50 112.21 L84.75 112.59 L84.00 112.99 L83.25 113.40 L82.50 113.82 L81.75 114.25 L81.00 114.68 L80.25 115.12 L79.50 115.56 L78.75 115.99 L78.00 116.41 L77.25 116.83 L76.50 117.23 L75.75 117.61 L75.00 117.98 L74.25 118.33 L73.50 118.65 L72.75 118.94 L72.00 119.20 Z" fill="#00CED1" stroke="#00CED1" stroke-width="0.5" stroke-linejoin="round"/><rect x="66.9" y="112.7" width="4.8" height="4.6" stroke="#00CED1" stroke-width="1.4" fill="#fff"/><path d="M377.30 69.45 L378.05 68.76 L378.80 67.99 L379.55 67.17 L380.30 66.31 L381.05 65.40 L381.80 64.47 L382.55 63.52 L383.30 62.56 L384.06 61.59 L384.81 60.64 L385.56 59.70 L386.31 58.79 L387.06 57.92 L387.81 57.09 L388.56 56.32 L389.31 55.61 L390.06 54.95 L390.81 54.35 L391.56 53.82 L392.31 53.34 L393.06 52.93 L393.81 52.58 L394.56 52.29 L395.31 52.08 L396.06 51.92 L396.82 51.84 L397.57 51.82 L398.32 51.87 L399.07 51.99 L399.82 52.17 L400.57 52.40 L401.32 52.69 L402.07 53.04 L402.82 53.44 L403.57 53.88 L404.32 54.37 L405.07 54.91 L405.82 55.48 L406.57 56.09 L407.32 56.73 L408.07 57.41 L408.82 58.11 L409.58 58.85 L410.33 59.60 L411.08 60.37 L411.83 61.17 L412.58 61.98 L413.33 62.80 L414.08 63.63 L414.83 64.46 L415.58 65.30 L416.33 66.15 L417.08 67.00 L417.83 67.85 L418.58 68.71 L419.33 69.56 L420.08 70.42 L420.83 71.29 L421.59 72.15 L422.34 73.02 L423.09 73.89 L423.84 74.76 L424.59 75.64 L425.34 76.51 L426.09 77.39 L426.84 78.27 L427.59 79.15 L428.34 80.02 L429.09 80.90 L429.84 81.78 L430.59 82.66 L431.34 83.54 L432.09 84.42 L432.84 85.30 L433.59 86.18 L434.35 87.06 L435.10 87.94 L435.85 88.81 L436.60 89.69 L437.35 90.56 L438.10 91.43 L438.85 92.30 L439.60 93.17 L440.35 94.03 L441.10 94.89 L441.85 95.75 L442.60 96.61 L443.35 97.46 L444.10 98.31 L444.85 99.16 L445.60 100.00 L446.35 100.84 L447.11 101.67 L447.86 102.51 L448.61 103.33 L449.36 104.15 L450.11 104.97 L450.86 105.78 L451.61 106.59 L452.36 107.39 L453.11 108.19 L453.86 108.98 L454.61 109.77 L455.36 110.55 L456.11 111.32 L456.86 112.09 L457.61 112.85 L458.36 113.60 L459.11 114.35 L459.87 115.09 L460.62 115.83 L461.37 116.55 L462.12 117.27 L462.87 117.98 L463.62 118.69 L464.37 119.38 L465.12 120.07 L465.87 120.75 L466.62 121.42 L467.37 122.08 L468.12 122.74 L468.87 123.38 L469.62 124.02 L470.37 124.64 L471.12 125.26 L471.88 125.87 L472.63 126.47 L473.38 127.06 L474.13 127.64 L474.88 128.21 L475.63 128.77 L476.38 129.33 L477.13 129.88 L477.88 130.42 L478.63 130.96 L479.38 131.48 L480.13 132.00 L480.88 132.52 L481.63 133.03 L482.38 133.53 L483.13 134.02 L483.88 134.51 L484.64 134.99 L485.39 135.47 L486.14 135.94 L486.89 136.41 L487.64 136.87 L488.39 137.33 L489.14 137.78 L489.89 138.23 L490.64 138.68 L491.39 139.12 L492.14 139.55 L492.89 139.99 L493.64 140.42 L494.39 140.84 L495.14 141.27 L495.89 141.69 L496.64 142.11 L497.40 142.53 L498.15 142.94 L498.90 143.35 L499.65 143.77 L500.40 144.18 L501.15 144.58 L501.90 144.99 L502.65 145.40 L503.40 145.80 L504.15 146.21 L504.90 146.61 L505.65 147.02 L506.40 147.42 L507.15 147.83 L507.90 148.23 L508.65 148.63 L509.40 149.04 L510.16 149.44 L510.91 149.84 L511.66 150.23 L512.41 150.63 L513.16 151.03 L513.91 151.42 L514.66 151.81 L515.41 152.20 L516.16 152.59 L516.91 152.97 L517.66 153.35 L518.41 153.73 L519.16 154.10 L519.91 154.47 L520.66 154.84 L521.41 155.21 L522.16 155.57 L522.92 155.92 L523.67 156.27 L524.42 156.62 L525.17 156.97 L525.92 157.30 L526.67 157.64 L527.42 157.97 L528.17 158.29 L528.92 158.61 L529.67 158.93 L530.42 159.24 L531.17 159.55 L531.92 159.86 L532.67 160.15 L533.42 160.45 L534.17 160.74 L534.92 161.03 L535.68 161.31 L536.43 161.59 L537.18 161.87 L537.93 162.14 L538.68 162.41 L539.43 162.68 L540.18 162.94 L540.93 163.20 L541.68 163.46 L542.43 163.71 L543.18 163.96 L543.93 164.20 L544.68 164.44 L545.43 164.68 L546.18 164.92 L546.93 165.15 L547.69 165.39 L548.44 165.61 L549.19 165.84 L549.94 166.06 L550.69 166.28 L551.44 166.50 L552.19 166.71 L552.94 166.93 L553.69 167.14 L554.44 167.34 L555.19 167.55 L555.94 167.75 L556.69 167.95 L557.44 168.15 L558.19 168.35 L558.94 168.55 L559.69 168.74 L560.45 168.93 L561.20 169.12 L561.95 169.31 L562.70 169.49 L563.45 169.68 L564.20 169.86 L564.95 170.04 L565.70 170.22 L566.45 170.40 L567.20 170.58 L567.95 170.76 L568.70 170.93 L569.45 171.11 L570.20 171.28 L570.95 171.45 L571.70 171.62 L572.45 171.79 L573.21 171.96 L573.96 172.13 L574.71 172.30 L575.46 172.47 L576.21 172.64 L576.96 172.80 L577.71 172.97 L578.46 173.13 L579.21 173.30 L579.96 173.47 L580.71 173.63 L581.46 173.80 L582.21 173.96 L582.96 174.13 L583.71 174.29 L584.46 174.46 L585.21 174.62 L585.97 174.79 L586.72 174.95 L587.47 175.12 L588.22 175.29 L588.97 175.45 L589.72 175.62 L590.47 175.79 L591.22 175.96 L591.97 176.13 L592.72 176.30 L593.47 176.47 L594.22 176.64 L594.97 176.82 L595.72 176.99 L596.47 177.17 L597.22 177.34 L597.98 177.52 L598.73 177.70 L599.48 177.88 L600.23 178.06 L600.98 178.25 L601.73 178.43 L602.48 178.62 L603.23 178.81 L603.98 179.00 L604.73 179.19 L605.48 179.38 L606.23 179.58 L606.98 179.77 L607.73 179.97 L608.48 180.17 L609.23 180.37 L609.98 180.57 L610.74 180.77 L611.49 180.97 L612.24 181.16 L612.99 181.35 L613.74 181.53 L614.49 181.71 L615.24 181.88 L615.99 182.05 L616.74 182.21 L617.49 182.35 L618.24 182.49 L618.99 182.62 L619.74 182.73 L620.49 182.83 L621.24 182.92 L621.99 183.00 L622.74 183.06 L623.50 183.10 L624.25 183.13 L625.00 183.14 L625.75 183.13 L626.50 183.10 L627.25 183.05 L628.00 182.98 L628.75 182.89 L629.50 182.78 L629.50 189.90 L628.75 189.82 L628.00 189.73 L627.25 189.64 L626.50 189.55 L625.75 189.46 L625.00 189.37 L624.25 189.28 L623.50 189.19 L622.74 189.09 L621.99 189.00 L621.24 188.90 L620.49 188.80 L619.74 188.70 L618.99 188.60 L618.24 188.50 L617.49 188.39 L616.74 188.29 L615.99 188.18 L615.24 188.08 L614.49 187.97 L613.74 187.86 L612.99 187.75 L612.24 187.64 L611.49 187.52 L610.74 187.41 L609.98 187.29 L609.23 187.18 L608.48 187.06 L607.73 186.94 L606.98 186.82 L606.23 186.70 L605.48 186.58 L604.73 186.45 L603.98 186.33 L603.23 186.20 L602.48 186.07 L601.73 185.94 L600.98 185.81 L600.23 185.68 L599.48 185.55 L598.73 185.41 L597.98 185.28 L597.22 185.14 L596.47 185.00 L595.72 184.86 L594.97 184.72 L594.22 184.58 L593.47 184.44 L592.72 184.29 L591.97 184.15 L591.22 184.00 L590.47 183.85 L589.72 183.70 L588.97 183.55 L588.22 183.40 L587.47 183.24 L586.72 183.09 L585.97 182.93 L585.21 182.78 L584.46 182.62 L583.71 182.46 L582.96 182.29 L582.21 182.13 L581.46 181.97 L580.71 181.80 L579.96 181.63 L579.21 181.47 L578.46 181.30 L577.71 181.12 L576.96 180.95 L576.21 180.78 L575.46 180.60 L574.71 180.43 L573.96 180.25 L573.21 180.07 L572.45 179.89 L571.70 179.71 L570.95 179.52 L570.20 179.34 L569.45 179.15 L568.70 178.96 L567.95 178.77 L567.20 178.58 L566.45 178.39 L565.70 178.20 L564.95 178.00 L564.20 177.81 L563.45 177.61 L562.70 177.41 L561.95 177.21 L561.20 177.01 L560.45 176.80 L559.69 176.60 L558.94 176.39 L558.19 176.18 L557.44 175.98 L556.69 175.76 L555.94 175.55 L555.19 175.34 L554.44 175.12 L553.69 174.91 L552.94 174.69 L552.19 174.47 L551.44 174.25 L550.69 174.03 L549.94 173.80 L549.19 173.58 L548.44 173.35 L547.69 173.12 L546.93 172.89 L546.18 172.66 L545.43 172.43 L544.68 172.20 L543.93 171.96 L543.18 171.72 L542.43 171.48 L541.68 171.24 L540.93 171.00 L540.18 170.76 L539.43 170.51 L538.68 170.27 L537.93 170.02 L537.18 169.77 L536.43 169.52 L535.68 169.27 L534.92 169.01 L534.17 168.76 L533.42 168.50 L532.67 168.24 L531.92 167.98 L531.17 167.72 L530.42 167.46 L529.67 167.19 L528.92 166.93 L528.17 166.66 L527.42 166.39 L526.67 166.12 L525.92 165.84 L525.17 165.57 L524.42 165.29 L523.67 165.02 L522.92 164.74 L522.16 164.46 L521.41 164.17 L520.66 163.89 L519.91 163.60 L519.16 163.31 L518.41 163.02 L517.66 162.73 L516.91 162.43 L516.16 162.14 L515.41 161.84 L514.66 161.53 L513.91 161.23 L513.16 160.92 L512.41 160.61 L511.66 160.30 L510.91 159.98 L510.16 159.66 L509.40 159.34 L508.65 159.01 L507.90 158.68 L507.15 158.35 L506.40 158.02 L505.65 157.68 L504.90 157.33 L504.15 156.99 L503.40 156.64 L502.65 156.29 L501.90 155.93 L501.15 155.57 L500.40 155.21 L499.65 154.84 L498.90 154.47 L498.15 154.09 L497.40 153.71 L496.64 153.32 L495.89 152.93 L495.14 152.54 L494.39 152.14 L493.64 151.74 L492.89 151.33 L492.14 150.92 L491.39 150.50 L490.64 150.08 L489.89 149.66 L489.14 149.22 L488.39 148.79 L487.64 148.35 L486.89 147.90 L486.14 147.45 L485.39 146.99 L484.64 146.53 L483.88 146.06 L483.13 145.59 L482.38 145.11 L481.63 144.62 L480.88 144.13 L480.13 143.63 L479.38 143.13 L478.63 142.62 L477.88 142.11 L477.13 141.58 L476.38 141.06 L475.63 140.52 L474.88 139.98 L474.13 139.44 L473.38 138.89 L472.63 138.33 L471.88 137.76 L471.12 137.19 L470.37 136.61 L469.62 136.02 L468.87 135.43 L468.12 134.83 L467.37 134.22 L466.62 133.61 L465.87 132.99 L465.12 132.36 L464.37 131.73 L463.62 131.08 L462.87 130.44 L462.12 129.78 L461.37 129.12 L460.62 128.46 L459.87 127.78 L459.11 127.10 L458.36 126.42 L457.61 125.73 L456.86 125.03 L456.11 124.32 L455.36 123.61 L454.61 122.90 L453.86 122.17 L453.11 121.44 L452.36 120.71 L451.61 119.97 L450.86 119.22 L450.11 118.47 L449.36 117.71 L448.61 116.94 L447.86 116.17 L447.11 115.40 L446.35 114.61 L445.60 113.83 L444.85 113.03 L444.10 112.23 L443.35 111.43 L442.60 110.62 L441.85 109.80 L441.10 108.98 L440.35 108.15 L439.60 107.32 L438.85 106.49 L438.10 105.64 L437.35 104.80 L436.60 103.95 L435.85 103.09 L435.10 102.23 L434.35 101.37 L433.59 100.50 L432.84 99.62 L432.09 98.75 L431.34 97.87 L430.59 96.98 L429.84 96.09 L429.09 95.20 L428.34 94.30 L427.59 93.40 L426.84 92.50 L426.09 91.59 L425.34 90.68 L424.59 89.77 L423.84 88.85 L423.09 87.93 L422.34 87.01 L421.59 86.09 L420.83 85.16 L420.08 84.23 L419.33 83.30 L418.58 82.36 L417.83 81.43 L417.08 80.49 L416.33 79.55 L415.58 78.60 L414.83 77.66 L414.08 76.71 L413.33 75.77 L412.58 74.83 L411.83 73.90 L411.08 72.97 L410.33 72.07 L409.58 71.18 L408.82 70.30 L408.07 69.46 L407.32 68.63 L406.57 67.84 L405.82 67.08 L405.07 66.35 L404.32 65.66 L403.57 65.02 L402.82 64.41 L402.07 63.86 L401.32 63.35 L400.57 62.90 L399.82 62.50 L399.07 62.17 L398.32 61.89 L397.57 61.68 L396.82 61.54 L396.06 61.52 L395.31 61.69 L394.56 62.18 L393.81 63.06 L393.06 64.31 L392.31 65.79 L391.56 67.35 L390.81 68.85 L390.06 70.23 L389.31 71.48 L388.56 72.60 L387.81 73.57 L387.06 74.39 L386.31 75.08 L385.56 75.64 L384.81 76.09 L384.06 76.44 L383.30 76.69 L382.55 76.86 L381.80 76.96 L381.05 77.01 L380.30 77.01 L379.55 76.97 L378.80 76.91 L378.05 76.84 L377.30 76.77 Z" fill="#00CED1" stroke="#00CED1" stroke-width="0.5" stroke-linejoin="round"/><path d="M62.50 504.04 L63.25 503.55 L64.00 503.07 L64.75 502.58 L65.50 502.10 L66.25 501.62 L67.01 501.15 L67.76 500.67 L68.51 500.20 L69.26 499.73 L70.01 499.26 L70.76 498.79 L71.51 498.33 L72.26 497.86 L73.01 497.40 L73.76 496.94 L74.52 496.48 L75.27 496.03 L76.02 495.57 L76.77 495.12 L77.52 494.66 L78.27 494.21 L79.02 493.76 L79.77 493.32 L80.52 492.87 L81.27 492.42 L82.02 491.98 L82.78 491.53 L83.53 491.09 L84.28 490.65 L85.03 490.21 L85.78 489.77 L86.53 489.33 L87.28 488.89 L88.03 488.45 L88.78 488.01 L89.53 487.58 L90.29 487.14 L91.04 486.71 L91.79 486.27 L92.54 485.84 L93.29 485.40 L94.04 484.97 L94.79 484.54 L95.54 484.10 L96.29 483.67 L97.04 483.24 L97.79 482.80 L98.55 482.37 L99.30 481.94 L100.05 481.51 L100.80 481.07 L101.55 480.64 L102.30 480.21 L103.05 479.77 L103.80 479.34 L104.55 478.90 L105.30 478.47 L106.06 478.03 L106.81 477.60 L107.56 477.16 L108.31 476.72 L109.06 476.28 L109.81 475.85 L110.56 475.41 L111.31 474.97 L112.06 474.52 L112.81 474.08 L113.56 473.64 L114.32 473.20 L115.07 472.75 L115.82 472.30 L116.57 471.86 L117.32 471.41 L118.07 470.96 L118.82 470.51 L119.57 470.05 L120.32 469.60 L121.07 469.14 L121.83 468.69 L122.58 468.23 L123.33 467.77 L124.08 467.30 L124.83 466.84 L125.58 466.38 L126.33 465.91 L127.08 465.44 L127.83 464.97 L128.58 464.49 L129.33 464.02 L130.09 463.54 L130.84 463.06 L131.59 462.58 L132.34 462.10 L133.09 461.61 L133.84 461.12 L134.59 460.63 L135.34 460.14 L136.09 459.64 L136.84 459.14 L137.59 458.64 L138.35 458.14 L139.10 457.63 L139.85 457.12 L140.60 456.61 L141.35 456.09 L142.10 455.58 L142.85 455.06 L143.60 454.53 L144.35 454.01 L145.10 453.48 L145.86 452.95 L146.61 452.41 L147.36 451.87 L148.11 451.34 L148.86 450.79 L149.61 450.25 L150.36 449.70 L151.11 449.15 L151.86 448.60 L152.61 448.04 L153.36 447.48 L154.12 446.92 L154.87 446.36 L155.62 445.79 L156.37 445.23 L157.12 444.65 L157.87 444.08 L158.62 443.50 L159.37 442.93 L160.12 442.34 L160.87 441.76 L161.63 441.17 L162.38 440.59 L163.13 439.99 L163.88 439.40 L164.63 438.81 L165.38 438.21 L166.13 437.61 L166.88 437.00 L167.63 436.40 L168.38 435.79 L169.13 435.18 L169.89 434.56 L170.64 433.95 L171.39 433.33 L172.14 432.71 L172.89 432.09 L173.64 431.46 L174.39 430.84 L175.14 430.21 L175.89 429.58 L176.64 428.94 L177.40 428.30 L178.15 427.67 L178.90 427.03 L179.65 426.38 L180.40 425.74 L181.15 425.09 L181.90 424.44 L182.65 423.79 L183.40 423.13 L184.15 422.48 L184.90 421.82 L185.66 421.16 L186.41 420.50 L187.16 419.83 L187.91 419.16 L188.66 418.50 L189.41 417.82 L190.16 417.15 L190.91 416.48 L191.66 415.80 L192.41 415.12 L193.17 414.44 L193.92 413.75 L194.67 413.07 L195.42 412.38 L196.17 411.69 L196.92 411.00 L197.67 410.31 L198.42 409.61 L199.17 408.91 L199.92 408.21 L200.67 407.51 L201.43 406.81 L202.18 406.10 L202.93 405.40 L203.68 404.69 L204.43 403.98 L205.18 403.26 L205.93 402.55 L206.68 401.83 L207.43 401.11 L208.18 400.39 L208.94 399.67 L209.69 398.95 L210.44 398.22 L211.19 397.50 L211.94 396.77 L212.69 396.04 L213.44 395.30 L214.19 394.57 L214.94 393.83 L215.69 393.10 L216.44 392.36 L217.20 391.61 L217.95 390.87 L218.70 390.13 L219.45 389.38 L220.20 388.63 L220.95 387.88 L221.70 387.13 L222.45 386.38 L223.20 385.63 L223.95 384.88 L224.71 384.12 L225.46 383.37 L226.21 382.61 L226.96 381.86 L227.71 381.11 L228.46 380.35 L229.21 379.60 L229.96 378.85 L230.71 378.10 L231.46 377.35 L232.21 376.61 L232.97 375.86 L233.72 375.12 L234.47 374.38 L235.22 373.65 L235.97 372.92 L236.72 372.19 L237.47 371.46 L238.22 370.74 L238.97 370.02 L239.72 369.30 L240.47 368.59 L241.23 367.89 L241.98 367.19 L242.73 366.49 L243.48 365.80 L244.23 365.11 L244.98 364.43 L245.73 363.76 L246.48 363.09 L247.23 362.43 L247.98 361.78 L248.74 361.13 L249.49 360.49 L250.24 359.86 L250.99 359.23 L251.74 358.61 L252.49 358.00 L253.24 357.40 L253.99 356.81 L254.74 356.23 L255.49 355.65 L256.24 355.08 L257.00 354.53 L257.75 353.98 L258.50 353.44 L259.25 352.92 L260.00 352.40 L260.75 351.89 L261.50 351.39 L262.25 350.91 L263.00 350.43 L263.75 349.97 L264.51 349.51 L265.26 349.06 L266.01 348.63 L266.76 348.21 L267.51 347.79 L268.26 347.39 L269.01 347.00 L269.76 346.62 L270.51 346.25 L271.26 345.89 L272.01 345.54 L272.77 345.20 L273.52 344.88 L274.27 344.56 L275.02 344.26 L275.77 343.97 L276.52 343.69 L277.27 343.42 L278.02 343.17 L278.77 342.92 L279.52 342.69 L280.28 342.47 L281.03 342.26 L281.78 342.06 L282.53 341.87 L283.28 341.70 L284.03 341.54 L284.78 341.39 L285.53 341.25 L286.28 341.13 L287.03 341.02 L287.78 340.92 L288.54 340.84 L289.29 340.76 L290.04 340.71 L290.79 340.66 L291.54 340.63 L292.29 340.62 L293.04 340.62 L293.79 340.64 L294.54 340.67 L295.29 340.71 L296.05 340.77 L296.80 340.85 L297.55 340.94 L298.30 341.05 L299.05 341.18 L299.80 341.32 L299.80 344.39 L299.05 344.40 L298.30 344.42 L297.55 344.46 L296.80 344.51 L296.05 344.57 L295.29 344.64 L294.54 344.73 L293.79 344.83 L293.04 344.94 L292.29 345.06 L291.54 345.20 L290.79 345.34 L290.04 345.50 L289.29 345.67 L288.54 345.85 L287.78 346.04 L287.03 346.24 L286.28 346.46 L285.53 346.69 L284.78 346.92 L284.03 347.17 L283.28 347.43 L282.53 347.70 L281.78 347.98 L281.03 348.27 L280.28 348.57 L279.52 348.89 L278.77 349.21 L278.02 349.54 L277.27 349.89 L276.52 350.24 L275.77 350.60 L275.02 350.98 L274.27 351.36 L273.52 351.75 L272.77 352.16 L272.01 352.57 L271.26 352.99 L270.51 353.42 L269.76 353.86 L269.01 354.31 L268.26 354.77 L267.51 355.24 L266.76 355.72 L266.01 356.20 L265.26 356.70 L264.51 357.20 L263.75 357.71 L263.00 358.23 L262.25 358.76 L261.50 359.30 L260.75 359.85 L260.00 360.40 L259.25 360.96 L258.50 361.53 L257.75 362.11 L257.00 362.70 L256.24 363.29 L255.49 363.89 L254.74 364.50 L253.99 365.12 L253.24 365.74 L252.49 366.37 L251.74 367.01 L250.99 367.65 L250.24 368.30 L249.49 368.95 L248.74 369.61 L247.98 370.28 L247.23 370.95 L246.48 371.62 L245.73 372.30 L244.98 372.99 L244.23 373.68 L243.48 374.37 L242.73 375.07 L241.98 375.77 L241.23 376.48 L240.47 377.19 L239.72 377.91 L238.97 378.62 L238.22 379.34 L237.47 380.06 L236.72 380.79 L235.97 381.52 L235.22 382.25 L234.47 382.98 L233.72 383.71 L232.97 384.45 L232.21 385.19 L231.46 385.93 L230.71 386.67 L229.96 387.41 L229.21 388.15 L228.46 388.89 L227.71 389.63 L226.96 390.38 L226.21 391.12 L225.46 391.86 L224.71 392.60 L223.95 393.35 L223.20 394.09 L222.45 394.83 L221.70 395.57 L220.95 396.30 L220.20 397.04 L219.45 397.77 L218.70 398.50 L217.95 399.24 L217.20 399.96 L216.44 400.69 L215.69 401.42 L214.94 402.14 L214.19 402.86 L213.44 403.58 L212.69 404.30 L211.94 405.01 L211.19 405.73 L210.44 406.44 L209.69 407.15 L208.94 407.86 L208.18 408.57 L207.43 409.27 L206.68 409.98 L205.93 410.68 L205.18 411.38 L204.43 412.07 L203.68 412.77 L202.93 413.46 L202.18 414.15 L201.43 414.84 L200.67 415.53 L199.92 416.22 L199.17 416.90 L198.42 417.58 L197.67 418.26 L196.92 418.94 L196.17 419.62 L195.42 420.29 L194.67 420.96 L193.92 421.63 L193.17 422.30 L192.41 422.97 L191.66 423.63 L190.91 424.29 L190.16 424.96 L189.41 425.61 L188.66 426.27 L187.91 426.92 L187.16 427.58 L186.41 428.23 L185.66 428.87 L184.90 429.52 L184.15 430.16 L183.40 430.81 L182.65 431.45 L181.90 432.08 L181.15 432.72 L180.40 433.35 L179.65 433.98 L178.90 434.61 L178.15 435.24 L177.40 435.87 L176.64 436.49 L175.89 437.11 L175.14 437.73 L174.39 438.35 L173.64 438.96 L172.89 439.57 L172.14 440.18 L171.39 440.79 L170.64 441.40 L169.89 442.00 L169.13 442.60 L168.38 443.20 L167.63 443.80 L166.88 444.39 L166.13 444.99 L165.38 445.58 L164.63 446.17 L163.88 446.75 L163.13 447.34 L162.38 447.92 L161.63 448.50 L160.87 449.07 L160.12 449.65 L159.37 450.22 L158.62 450.79 L157.87 451.36 L157.12 451.93 L156.37 452.49 L155.62 453.05 L154.87 453.61 L154.12 454.17 L153.36 454.72 L152.61 455.28 L151.86 455.83 L151.11 456.37 L150.36 456.92 L149.61 457.46 L148.86 458.00 L148.11 458.54 L147.36 459.08 L146.61 459.61 L145.86 460.14 L145.10 460.67 L144.35 461.20 L143.60 461.72 L142.85 462.24 L142.10 462.76 L141.35 463.28 L140.60 463.79 L139.85 464.30 L139.10 464.81 L138.35 465.32 L137.59 465.83 L136.84 466.33 L136.09 466.83 L135.34 467.33 L134.59 467.82 L133.84 468.32 L133.09 468.81 L132.34 469.30 L131.59 469.78 L130.84 470.27 L130.09 470.75 L129.33 471.23 L128.58 471.71 L127.83 472.19 L127.08 472.66 L126.33 473.14 L125.58 473.61 L124.83 474.08 L124.08 474.54 L123.33 475.01 L122.58 475.47 L121.83 475.93 L121.07 476.39 L120.32 476.85 L119.57 477.31 L118.82 477.76 L118.07 478.22 L117.32 478.67 L116.57 479.12 L115.82 479.57 L115.07 480.01 L114.32 480.46 L113.56 480.90 L112.81 481.34 L112.06 481.78 L111.31 482.22 L110.56 482.66 L109.81 483.10 L109.06 483.53 L108.31 483.97 L107.56 484.40 L106.81 484.83 L106.06 485.26 L105.30 485.69 L104.55 486.12 L103.80 486.54 L103.05 486.97 L102.30 487.39 L101.55 487.82 L100.80 488.24 L100.05 488.66 L99.30 489.08 L98.55 489.50 L97.79 489.92 L97.04 490.34 L96.29 490.75 L95.54 491.17 L94.79 491.58 L94.04 492.00 L93.29 492.41 L92.54 492.82 L91.79 493.24 L91.04 493.65 L90.29 494.06 L89.53 494.47 L88.78 494.88 L88.03 495.29 L87.28 495.69 L86.53 496.10 L85.78 496.51 L85.03 496.92 L84.28 497.32 L83.53 497.73 L82.78 498.13 L82.02 498.54 L81.27 498.94 L80.52 499.35 L79.77 499.75 L79.02 500.15 L78.27 500.56 L77.52 500.96 L76.77 501.36 L76.02 501.77 L75.27 502.17 L74.52 502.57 L73.76 502.97 L73.01 503.38 L72.26 503.78 L71.51 504.18 L70.76 504.58 L70.01 504.99 L69.26 505.39 L68.51 505.79 L67.76 506.19 L67.01 506.60 L66.25 507.00 L65.50 507.40 L64.75 507.81 L64.00 508.21 L63.25 508.61 L62.50 509.02 Z" fill="#00CED1" stroke="#00CED1" stroke-width="0.5" stroke-linejoin="round"/><path d="M375.00 501.47 L375.75 500.93 L376.50 500.39 L377.25 499.84 L378.00 499.29 L378.75 498.73 L379.50 498.18 L380.25 497.62 L381.00 497.05 L381.75 496.49 L382.50 495.92 L383.25 495.34 L384.00 494.77 L384.75 494.19 L385.50 493.61 L386.25 493.02 L387.00 492.44 L387.75 491.85 L388.50 491.26 L389.25 490.66 L390.00 490.06 L390.75 489.46 L391.50 488.86 L392.25 488.25 L393.00 487.65 L393.75 487.04 L394.50 486.42 L395.25 485.81 L396.00 485.19 L396.75 484.57 L397.50 483.95 L398.25 483.33 L399.00 482.70 L399.75 482.08 L400.50 481.45 L401.25 480.82 L402.00 480.18 L402.75 479.55 L403.50 478.91 L404.25 478.27 L405.00 477.63 L405.75 476.99 L406.50 476.35 L407.25 475.70 L408.00 475.05 L408.75 474.41 L409.50 473.76 L410.25 473.11 L411.00 472.45 L411.75 471.80 L412.50 471.15 L413.25 470.49 L414.00 469.83 L414.75 469.17 L415.50 468.51 L416.25 467.85 L417.00 467.19 L417.75 466.53 L418.50 465.87 L419.25 465.20 L420.00 464.54 L420.75 463.87 L421.50 463.20 L422.25 462.54 L423.00 461.87 L423.75 461.20 L424.50 460.53 L425.25 459.86 L426.00 459.19 L426.75 458.52 L427.50 457.85 L428.25 457.18 L429.00 456.51 L429.75 455.84 L430.50 455.16 L431.25 454.49 L432.00 453.82 L432.75 453.15 L433.50 452.47 L434.25 451.80 L435.00 451.12 L435.75 450.44 L436.50 449.76 L437.25 449.07 L438.00 448.39 L438.75 447.70 L439.50 447.01 L440.25 446.31 L441.00 445.61 L441.75 444.91 L442.50 444.20 L443.25 443.49 L444.00 442.78 L444.75 442.06 L445.50 441.33 L446.25 440.60 L447.00 439.87 L447.75 439.13 L448.50 438.38 L449.25 437.62 L450.00 436.86 L450.75 436.10 L451.50 435.32 L452.25 434.54 L453.00 433.76 L453.75 432.96 L454.50 432.16 L455.25 431.34 L456.00 430.52 L456.75 429.70 L457.50 428.86 L458.25 428.01 L459.00 427.15 L459.75 426.29 L460.50 425.41 L461.25 424.53 L462.00 423.63 L462.75 422.72 L463.50 421.81 L464.25 420.88 L465.00 419.94 L465.75 418.99 L466.50 418.02 L467.25 417.05 L468.00 416.07 L468.75 415.08 L469.50 414.09 L470.25 413.08 L471.00 412.08 L471.75 411.06 L472.50 410.05 L473.25 409.03 L474.00 408.01 L474.75 406.99 L475.50 405.96 L476.25 404.94 L477.00 403.92 L477.75 402.90 L478.50 401.89 L479.25 400.88 L480.00 399.87 L480.75 398.87 L481.50 397.88 L482.25 396.90 L483.00 395.92 L483.75 394.95 L484.50 393.99 L485.25 393.04 L486.00 392.10 L486.75 391.17 L487.50 390.24 L488.25 389.32 L489.00 388.40 L489.75 387.49 L490.50 386.59 L491.25 385.69 L492.00 384.80 L492.75 383.91 L493.50 383.03 L494.25 382.14 L495.00 381.26 L495.75 380.39 L496.50 379.51 L497.25 378.64 L498.00 377.77 L498.75 376.89 L499.50 376.02 L500.25 375.15 L501.00 374.28 L501.75 373.42 L502.50 372.55 L503.25 371.69 L504.00 370.82 L504.75 369.97 L505.50 369.11 L506.25 368.26 L507.00 367.41 L507.75 366.57 L508.50 365.73 L509.25 364.90 L510.00 364.07 L510.75 363.25 L511.50 362.43 L512.25 361.62 L513.00 360.82 L513.75 360.02 L514.50 359.24 L515.25 358.46 L516.00 357.68 L516.75 356.92 L517.50 356.17 L518.25 355.42 L519.00 354.69 L519.75 353.96 L520.50 353.25 L521.25 352.55 L522.00 351.86 L522.75 351.18 L523.50 350.51 L524.25 349.85 L525.00 349.21 L525.75 348.58 L526.50 347.96 L527.25 347.36 L528.00 346.77 L528.75 346.19 L529.50 345.63 L530.25 345.09 L531.00 344.56 L531.75 344.04 L532.50 343.55 L533.25 343.07 L534.00 342.60 L534.75 342.15 L535.50 341.73 L536.25 341.32 L537.00 340.92 L537.75 340.55 L538.50 340.19 L539.25 339.86 L540.00 339.54 L540.75 339.24 L541.50 338.95 L542.25 338.68 L543.00 338.43 L543.75 338.19 L544.50 337.96 L545.25 337.75 L546.00 337.55 L546.75 337.37 L547.50 337.19 L548.25 337.03 L549.00 336.88 L549.75 336.73 L550.50 336.60 L551.25 336.48 L552.00 336.36 L552.75 336.25 L553.50 336.15 L554.25 336.06 L555.00 335.97 L555.75 335.89 L556.50 335.81 L557.25 335.74 L558.00 335.67 L558.75 335.60 L559.50 335.54 L560.25 335.48 L561.00 335.42 L561.75 335.36 L562.50 335.30 L563.25 335.24 L564.00 335.18 L564.75 335.11 L565.50 335.05 L566.25 334.98 L567.00 334.91 L567.75 334.84 L568.50 334.76 L569.25 334.68 L570.00 334.59 L570.75 334.49 L571.50 334.39 L572.25 334.28 L573.00 334.17 L573.00 338.78 L572.25 338.84 L571.50 338.90 L570.75 338.95 L570.00 339.00 L569.25 339.05 L568.50 339.10 L567.75 339.15 L567.00 339.20 L566.25 339.25 L565.50 339.30 L564.75 339.36 L564.00 339.41 L563.25 339.47 L562.50 339.53 L561.75 339.59 L561.00 339.66 L560.25 339.73 L559.50 339.80 L558.75 339.88 L558.00 339.96 L557.25 340.06 L556.50 340.15 L555.75 340.26 L555.00 340.37 L554.25 340.49 L553.50 340.61 L552.75 340.75 L552.00 340.89 L551.25 341.04 L550.50 341.21 L549.75 341.38 L549.00 341.57 L548.25 341.76 L547.50 341.97 L546.75 342.19 L546.00 342.42 L545.25 342.66 L544.50 342.92 L543.75 343.19 L543.00 343.48 L542.25 343.78 L541.50 344.10 L540.75 344.43 L540.00 344.77 L539.25 345.14 L538.50 345.52 L537.75 345.92 L537.00 346.33 L536.25 346.77 L535.50 347.22 L534.75 347.70 L534.00 348.20 L533.25 348.72 L532.50 349.27 L531.75 349.85 L531.00 350.45 L530.25 351.08 L529.50 351.74 L528.75 352.44 L528.00 353.16 L527.25 353.91 L526.50 354.68 L525.75 355.47 L525.00 356.26 L524.25 357.06 L523.50 357.85 L522.75 358.63 L522.00 359.39 L521.25 360.13 L520.50 360.84 L519.75 361.53 L519.00 362.19 L518.25 362.84 L517.50 363.49 L516.75 364.13 L516.00 364.78 L515.25 365.44 L514.50 366.13 L513.75 366.83 L513.00 367.57 L512.25 368.33 L511.50 369.11 L510.75 369.92 L510.00 370.75 L509.25 371.60 L508.50 372.47 L507.75 373.35 L507.00 374.26 L506.25 375.18 L505.50 376.11 L504.75 377.05 L504.00 378.01 L503.25 378.98 L502.50 379.95 L501.75 380.94 L501.00 381.93 L500.25 382.92 L499.50 383.92 L498.75 384.92 L498.00 385.93 L497.25 386.93 L496.50 387.93 L495.75 388.94 L495.00 389.94 L494.25 390.95 L493.50 391.95 L492.75 392.96 L492.00 393.96 L491.25 394.97 L490.50 395.97 L489.75 396.98 L489.00 397.98 L488.25 398.98 L487.50 399.98 L486.75 400.98 L486.00 401.97 L485.25 402.97 L484.50 403.96 L483.75 404.95 L483.00 405.94 L482.25 406.92 L481.50 407.91 L480.75 408.89 L480.00 409.87 L479.25 410.84 L478.50 411.81 L477.75 412.78 L477.00 413.74 L476.25 414.70 L475.50 415.66 L474.75 416.61 L474.00 417.56 L473.25 418.50 L472.50 419.44 L471.75 420.37 L471.00 421.30 L470.25 422.23 L469.50 423.15 L468.75 424.06 L468.00 424.97 L467.25 425.87 L466.50 426.76 L465.75 427.65 L465.00 428.54 L464.25 429.41 L463.50 430.29 L462.75 431.15 L462.00 432.01 L461.25 432.86 L460.50 433.71 L459.75 434.55 L459.00 435.38 L458.25 436.21 L457.50 437.03 L456.75 437.85 L456.00 438.66 L455.25 439.47 L454.50 440.27 L453.75 441.07 L453.00 441.86 L452.25 442.64 L451.50 443.42 L450.75 444.20 L450.00 444.97 L449.25 445.74 L448.50 446.50 L447.75 447.26 L447.00 448.01 L446.25 448.76 L445.50 449.50 L444.75 450.24 L444.00 450.98 L443.25 451.71 L442.50 452.44 L441.75 453.17 L441.00 453.89 L440.25 454.60 L439.50 455.32 L438.75 456.03 L438.00 456.74 L437.25 457.44 L436.50 458.14 L435.75 458.84 L435.00 459.53 L434.25 460.22 L433.50 460.91 L432.75 461.60 L432.00 462.28 L431.25 462.96 L430.50 463.64 L429.75 464.32 L429.00 464.99 L428.25 465.66 L427.50 466.33 L426.75 467.00 L426.00 467.67 L425.25 468.33 L424.50 468.99 L423.75 469.66 L423.00 470.32 L422.25 470.98 L421.50 471.64 L420.75 472.30 L420.00 472.96 L419.25 473.63 L418.50 474.29 L417.75 474.95 L417.00 475.61 L416.25 476.28 L415.50 476.94 L414.75 477.61 L414.00 478.27 L413.25 478.94 L412.50 479.61 L411.75 480.29 L411.00 480.96 L410.25 481.64 L409.50 482.32 L408.75 483.00 L408.00 483.69 L407.25 484.38 L406.50 485.07 L405.75 485.77 L405.00 486.47 L404.25 487.17 L403.50 487.88 L402.75 488.59 L402.00 489.31 L401.25 490.03 L400.50 490.76 L399.75 491.49 L399.00 492.23 L398.25 492.97 L397.50 493.72 L396.75 494.47 L396.00 495.23 L395.25 496.00 L394.50 496.77 L393.75 497.54 L393.00 498.32 L392.25 499.09 L391.50 499.86 L390.75 500.62 L390.00 501.36 L389.25 502.09 L388.50 502.80 L387.75 503.48 L387.00 504.14 L386.25 504.76 L385.50 505.35 L384.75 505.91 L384.00 506.42 L383.25 506.89 L382.50 507.31 L381.75 507.67 L381.00 507.99 L380.25 508.24 L379.50 508.43 L378.75 508.56 L378.00 508.62 L377.25 508.60 L376.50 508.51 L375.75 508.34 L375.00 508.09 Z" fill="#00CED1" stroke="#00CED1" stroke-width="0.5" stroke-linejoin="round"/><path d="M62.60 774.46 L63.35 774.29 L64.10 774.10 L64.85 773.89 L65.60 773.67 L66.35 773.43 L67.10 773.18 L67.85 772.91 L68.60 772.63 L69.35 772.33 L70.10 772.02 L70.86 771.70 L71.61 771.37 L72.36 771.02 L73.11 770.67 L73.86 770.31 L74.61 769.94 L75.36 769.56 L76.11 769.17 L76.86 768.78 L77.61 768.38 L78.36 767.97 L79.11 767.57 L79.86 767.15 L80.61 766.73 L81.36 766.32 L82.11 765.89 L82.86 765.47 L83.61 765.05 L84.36 764.62 L85.11 764.20 L85.86 763.77 L86.62 763.35 L87.37 762.92 L88.12 762.50 L88.87 762.07 L89.62 761.64 L90.37 761.22 L91.12 760.79 L91.87 760.36 L92.62 759.93 L93.37 759.50 L94.12 759.07 L94.87 758.64 L95.62 758.21 L96.37 757.78 L97.12 757.35 L97.87 756.92 L98.62 756.49 L99.37 756.06 L100.12 755.62 L100.87 755.19 L101.62 754.76 L102.38 754.32 L103.13 753.89 L103.88 753.45 L104.63 753.01 L105.38 752.57 L106.13 752.14 L106.88 751.70 L107.63 751.26 L108.38 750.82 L109.13 750.38 L109.88 749.94 L110.63 749.49 L111.38 749.05 L112.13 748.61 L112.88 748.16 L113.63 747.72 L114.38 747.27 L115.13 746.82 L115.88 746.38 L116.63 745.93 L117.38 745.48 L118.14 745.03 L118.89 744.58 L119.64 744.13 L120.39 743.68 L121.14 743.22 L121.89 742.77 L122.64 742.32 L123.39 741.87 L124.14 741.41 L124.89 740.96 L125.64 740.50 L126.39 740.05 L127.14 739.59 L127.89 739.13 L128.64 738.68 L129.39 738.22 L130.14 737.76 L130.89 737.31 L131.64 736.85 L132.39 736.39 L133.14 735.93 L133.90 735.47 L134.65 735.01 L135.40 734.55 L136.15 734.09 L136.90 733.63 L137.65 733.17 L138.40 732.71 L139.15 732.25 L139.90 731.79 L140.65 731.33 L141.40 730.87 L142.15 730.41 L142.90 729.95 L143.65 729.48 L144.40 729.02 L145.15 728.55 L145.90 728.09 L146.65 727.62 L147.40 727.15 L148.15 726.68 L148.90 726.21 L149.66 725.73 L150.41 725.26 L151.16 724.78 L151.91 724.30 L152.66 723.82 L153.41 723.34 L154.16 722.85 L154.91 722.36 L155.66 721.87 L156.41 721.38 L157.16 720.89 L157.91 720.39 L158.66 719.89 L159.41 719.39 L160.16 718.88 L160.91 718.37 L161.66 717.86 L162.41 717.34 L163.16 716.82 L163.91 716.30 L164.66 715.77 L165.42 715.24 L166.17 714.71 L166.92 714.17 L167.67 713.63 L168.42 713.08 L169.17 712.53 L169.92 711.98 L170.67 711.42 L171.42 710.85 L172.17 710.29 L172.92 709.71 L173.67 709.14 L174.42 708.55 L175.17 707.97 L175.92 707.37 L176.67 706.78 L177.42 706.17 L178.17 705.56 L178.92 704.95 L179.67 704.33 L180.42 703.71 L181.18 703.07 L181.93 702.44 L182.68 701.79 L183.43 701.15 L184.18 700.49 L184.93 699.83 L185.68 699.16 L186.43 698.49 L187.18 697.81 L187.93 697.12 L188.68 696.42 L189.43 695.72 L190.18 695.01 L190.93 694.30 L191.68 693.58 L192.43 692.85 L193.18 692.11 L193.93 691.37 L194.68 690.61 L195.43 689.85 L196.18 689.09 L196.94 688.31 L197.69 687.53 L198.44 686.73 L199.19 685.93 L199.94 685.13 L200.69 684.31 L201.44 683.48 L202.19 682.65 L202.94 681.81 L203.69 680.96 L204.44 680.10 L205.19 679.23 L205.94 678.35 L206.69 677.46 L207.44 676.57 L208.19 675.66 L208.94 674.75 L209.69 673.82 L210.44 672.89 L211.19 671.95 L211.94 671.01 L212.70 670.06 L213.45 669.10 L214.20 668.13 L214.95 667.16 L215.70 666.19 L216.45 665.21 L217.20 664.23 L217.95 663.24 L218.70 662.25 L219.45 661.26 L220.20 660.26 L220.95 659.26 L221.70 658.26 L222.45 657.26 L223.20 656.26 L223.95 655.26 L224.70 654.26 L225.45 653.26 L226.20 652.27 L226.95 651.27 L227.70 650.27 L228.46 649.28 L229.21 648.29 L229.96 647.31 L230.71 646.32 L231.46 645.34 L232.21 644.37 L232.96 643.40 L233.71 642.44 L234.46 641.48 L235.21 640.53 L235.96 639.59 L236.71 638.65 L237.46 637.72 L238.21 636.80 L238.96 635.89 L239.71 634.98 L240.46 634.09 L241.21 633.20 L241.96 632.33 L242.71 631.46 L243.46 630.61 L244.22 629.77 L244.97 628.94 L245.72 628.12 L246.47 627.32 L247.22 626.53 L247.97 625.75 L248.72 624.99 L249.47 624.24 L250.22 623.51 L250.97 622.79 L251.72 622.09 L252.47 621.40 L253.22 620.74 L253.97 620.09 L254.72 619.46 L255.47 618.85 L256.22 618.25 L256.97 617.68 L257.72 617.13 L258.47 616.61 L259.22 616.10 L259.98 615.62 L260.73 615.16 L261.48 614.73 L262.23 614.32 L262.98 613.94 L263.73 613.57 L264.48 613.23 L265.23 612.91 L265.98 612.62 L266.73 612.34 L267.48 612.08 L268.23 611.84 L268.98 611.62 L269.73 611.42 L270.48 611.24 L271.23 611.07 L271.98 610.92 L272.73 610.78 L273.48 610.66 L274.23 610.55 L274.98 610.45 L275.74 610.37 L276.49 610.30 L277.24 610.24 L277.99 610.19 L278.74 610.15 L279.49 610.12 L280.24 610.09 L280.99 610.08 L281.74 610.07 L282.49 610.07 L283.24 610.08 L283.99 610.09 L284.74 610.11 L285.49 610.13 L286.24 610.15 L286.99 610.18 L287.74 610.20 L288.49 610.23 L289.24 610.26 L289.99 610.29 L290.74 610.32 L291.50 610.35 L292.25 610.38 L293.00 610.40 L293.75 610.42 L294.50 610.44 L295.25 610.45 L296.00 610.46 L296.75 610.46 L297.50 610.46 L298.25 610.45 L299.00 610.43 L299.00 614.13 L298.25 614.37 L297.50 614.59 L296.75 614.79 L296.00 614.96 L295.25 615.11 L294.50 615.23 L293.75 615.34 L293.00 615.43 L292.25 615.51 L291.50 615.57 L290.74 615.62 L289.99 615.65 L289.24 615.68 L288.49 615.70 L287.74 615.71 L286.99 615.72 L286.24 615.72 L285.49 615.72 L284.74 615.72 L283.99 615.72 L283.24 615.72 L282.49 615.72 L281.74 615.73 L280.99 615.75 L280.24 615.77 L279.49 615.81 L278.74 615.86 L277.99 615.91 L277.24 615.99 L276.49 616.07 L275.74 616.17 L274.98 616.28 L274.23 616.42 L273.48 616.56 L272.73 616.73 L271.98 616.91 L271.23 617.11 L270.48 617.33 L269.73 617.58 L268.98 617.84 L268.23 618.12 L267.48 618.43 L266.73 618.76 L265.98 619.12 L265.23 619.49 L264.48 619.90 L263.73 620.33 L262.98 620.79 L262.23 621.27 L261.48 621.79 L260.73 622.33 L259.98 622.90 L259.22 623.50 L258.47 624.12 L257.72 624.77 L256.97 625.43 L256.22 626.10 L255.47 626.79 L254.72 627.49 L253.97 628.20 L253.22 628.91 L252.47 629.63 L251.72 630.34 L250.97 631.06 L250.22 631.76 L249.47 632.46 L248.72 633.16 L247.97 633.86 L247.22 634.56 L246.47 635.28 L245.72 636.02 L244.97 636.79 L244.22 637.58 L243.46 638.41 L242.71 639.26 L241.96 640.13 L241.21 641.03 L240.46 641.94 L239.71 642.88 L238.96 643.83 L238.21 644.80 L237.46 645.78 L236.71 646.77 L235.96 647.78 L235.21 648.79 L234.46 649.81 L233.71 650.83 L232.96 651.86 L232.21 652.89 L231.46 653.92 L230.71 654.95 L229.96 655.97 L229.21 656.99 L228.46 658.00 L227.70 659.01 L226.95 660.01 L226.20 661.00 L225.45 661.99 L224.70 662.97 L223.95 663.95 L223.20 664.92 L222.45 665.88 L221.70 666.84 L220.95 667.79 L220.20 668.74 L219.45 669.68 L218.70 670.61 L217.95 671.54 L217.20 672.47 L216.45 673.39 L215.70 674.30 L214.95 675.21 L214.20 676.11 L213.45 677.01 L212.70 677.90 L211.94 678.78 L211.19 679.66 L210.44 680.54 L209.69 681.41 L208.94 682.27 L208.19 683.13 L207.44 683.99 L206.69 684.84 L205.94 685.68 L205.19 686.52 L204.44 687.35 L203.69 688.18 L202.94 689.01 L202.19 689.83 L201.44 690.64 L200.69 691.45 L199.94 692.25 L199.19 693.04 L198.44 693.83 L197.69 694.62 L196.94 695.40 L196.18 696.17 L195.43 696.94 L194.68 697.70 L193.93 698.46 L193.18 699.21 L192.43 699.96 L191.68 700.70 L190.93 701.43 L190.18 702.16 L189.43 702.88 L188.68 703.59 L187.93 704.30 L187.18 705.00 L186.43 705.70 L185.68 706.39 L184.93 707.08 L184.18 707.75 L183.43 708.42 L182.68 709.09 L181.93 709.75 L181.18 710.40 L180.42 711.05 L179.67 711.69 L178.92 712.32 L178.17 712.94 L177.42 713.56 L176.67 714.18 L175.92 714.78 L175.17 715.38 L174.42 715.98 L173.67 716.56 L172.92 717.14 L172.17 717.72 L171.42 718.29 L170.67 718.85 L169.92 719.41 L169.17 719.97 L168.42 720.52 L167.67 721.06 L166.92 721.60 L166.17 722.13 L165.42 722.66 L164.66 723.19 L163.91 723.71 L163.16 724.22 L162.41 724.73 L161.66 725.24 L160.91 725.75 L160.16 726.25 L159.41 726.74 L158.66 727.24 L157.91 727.73 L157.16 728.21 L156.41 728.70 L155.66 729.18 L154.91 729.65 L154.16 730.13 L153.41 730.60 L152.66 731.07 L151.91 731.54 L151.16 732.00 L150.41 732.47 L149.66 732.93 L148.90 733.39 L148.15 733.84 L147.40 734.30 L146.65 734.75 L145.90 735.21 L145.15 735.66 L144.40 736.11 L143.65 736.56 L142.90 737.01 L142.15 737.46 L141.40 737.91 L140.65 738.36 L139.90 738.80 L139.15 739.25 L138.40 739.70 L137.65 740.15 L136.90 740.60 L136.15 741.05 L135.40 741.51 L134.65 741.97 L133.90 742.45 L133.14 742.94 L132.39 743.43 L131.64 743.92 L130.89 744.42 L130.14 744.92 L129.39 745.42 L128.64 745.92 L127.89 746.41 L127.14 746.90 L126.39 747.39 L125.64 747.87 L124.89 748.33 L124.14 748.79 L123.39 749.23 L122.64 749.66 L121.89 750.08 L121.14 750.49 L120.39 750.89 L119.64 751.27 L118.89 751.66 L118.14 752.03 L117.38 752.40 L116.63 752.76 L115.88 753.13 L115.13 753.49 L114.38 753.85 L113.63 754.22 L112.88 754.58 L112.13 754.95 L111.38 755.33 L110.63 755.71 L109.88 756.10 L109.13 756.49 L108.38 756.89 L107.63 757.30 L106.88 757.71 L106.13 758.12 L105.38 758.54 L104.63 758.97 L103.88 759.40 L103.13 759.84 L102.38 760.28 L101.62 760.72 L100.87 761.17 L100.12 761.62 L99.37 762.08 L98.62 762.54 L97.87 763.00 L97.12 763.47 L96.37 763.95 L95.62 764.42 L94.87 764.90 L94.12 765.38 L93.37 765.87 L92.62 766.36 L91.87 766.85 L91.12 767.34 L90.37 767.84 L89.62 768.34 L88.87 768.84 L88.12 769.35 L87.37 769.85 L86.62 770.36 L85.86 770.87 L85.11 771.38 L84.36 771.90 L83.61 772.41 L82.86 772.93 L82.11 773.44 L81.36 773.96 L80.61 774.47 L79.86 774.97 L79.11 775.47 L78.36 775.96 L77.61 776.44 L76.86 776.90 L76.11 777.35 L75.36 777.78 L74.61 778.19 L73.86 778.58 L73.11 778.95 L72.36 779.29 L71.61 779.60 L70.86 779.89 L70.10 780.15 L69.35 780.37 L68.60 780.56 L67.85 780.71 L67.10 780.83 L66.35 780.90 L65.60 780.94 L64.85 780.93 L64.10 780.87 L63.35 780.76 L62.60 780.61 Z" fill="#00CED1" stroke="#00CED1" stroke-width="0.5" stroke-linejoin="round"/><path d="M377.00 777.69 L377.75 777.02 L378.50 776.36 L379.26 775.70 L380.01 775.04 L380.76 774.39 L381.51 773.75 L382.26 773.10 L383.02 772.47 L383.77 771.83 L384.52 771.20 L385.27 770.57 L386.03 769.95 L386.78 769.33 L387.53 768.71 L388.28 768.10 L389.03 767.48 L389.79 766.88 L390.54 766.27 L391.29 765.67 L392.04 765.06 L392.79 764.46 L393.55 763.87 L394.30 763.27 L395.05 762.68 L395.80 762.09 L396.55 761.49 L397.31 760.91 L398.06 760.32 L398.81 759.73 L399.56 759.14 L400.32 758.56 L401.07 757.98 L401.82 757.39 L402.57 756.81 L403.32 756.22 L404.08 755.64 L404.83 755.06 L405.58 754.48 L406.33 753.89 L407.08 753.31 L407.84 752.72 L408.59 752.14 L409.34 751.55 L410.09 750.96 L410.84 750.38 L411.60 749.79 L412.35 749.20 L413.10 748.60 L413.85 748.01 L414.61 747.41 L415.36 746.82 L416.11 746.22 L416.86 745.61 L417.61 745.01 L418.37 744.40 L419.12 743.79 L419.87 743.18 L420.62 742.57 L421.37 741.95 L422.13 741.33 L422.88 740.70 L423.63 740.07 L424.38 739.44 L425.13 738.81 L425.89 738.17 L426.64 737.52 L427.39 736.88 L428.14 736.22 L428.90 735.57 L429.65 734.91 L430.40 734.24 L431.15 733.57 L431.90 732.90 L432.66 732.22 L433.41 731.53 L434.16 730.84 L434.91 730.14 L435.66 729.44 L436.42 728.73 L437.17 728.02 L437.92 727.30 L438.67 726.57 L439.42 725.84 L440.18 725.10 L440.93 724.36 L441.68 723.60 L442.43 722.85 L443.19 722.08 L443.94 721.31 L444.69 720.53 L445.44 719.74 L446.19 718.95 L446.95 718.15 L447.70 717.34 L448.45 716.52 L449.20 715.70 L449.95 714.87 L450.71 714.03 L451.46 713.18 L452.21 712.33 L452.96 711.46 L453.71 710.59 L454.47 709.71 L455.22 708.82 L455.97 707.93 L456.72 707.02 L457.48 706.11 L458.23 705.19 L458.98 704.25 L459.73 703.31 L460.48 702.36 L461.24 701.40 L461.99 700.44 L462.74 699.46 L463.49 698.47 L464.24 697.48 L465.00 696.47 L465.75 695.45 L466.50 694.43 L467.25 693.39 L468.00 692.35 L468.76 691.29 L469.51 690.22 L470.26 689.15 L471.01 688.06 L471.77 686.96 L472.52 685.85 L473.27 684.73 L474.02 683.60 L474.77 682.46 L475.53 681.31 L476.28 680.14 L477.03 678.95 L477.78 677.75 L478.53 676.54 L479.29 675.30 L480.04 674.04 L480.79 672.77 L481.54 671.47 L482.30 670.15 L483.05 668.81 L483.80 667.46 L484.55 666.11 L485.30 664.76 L486.06 663.41 L486.81 662.07 L487.56 660.75 L488.31 659.44 L489.06 658.16 L489.82 656.90 L490.57 655.65 L491.32 654.42 L492.07 653.19 L492.82 651.98 L493.58 650.78 L494.33 649.57 L495.08 648.37 L495.83 647.17 L496.59 645.96 L497.34 644.75 L498.09 643.53 L498.84 642.31 L499.59 641.09 L500.35 639.87 L501.10 638.65 L501.85 637.44 L502.60 636.24 L503.35 635.04 L504.11 633.86 L504.86 632.69 L505.61 631.53 L506.36 630.39 L507.11 629.26 L507.87 628.16 L508.62 627.08 L509.37 626.02 L510.12 624.99 L510.88 623.98 L511.63 623.01 L512.38 622.06 L513.13 621.15 L513.88 620.27 L514.64 619.43 L515.39 618.62 L516.14 617.84 L516.89 617.10 L517.64 616.38 L518.40 615.70 L519.15 615.05 L519.90 614.43 L520.65 613.84 L521.40 613.28 L522.16 612.75 L522.91 612.24 L523.66 611.76 L524.41 611.31 L525.17 610.89 L525.92 610.48 L526.67 610.11 L527.42 609.75 L528.17 609.42 L528.93 609.11 L529.68 608.83 L530.43 608.56 L531.18 608.32 L531.93 608.09 L532.69 607.89 L533.44 607.70 L534.19 607.53 L534.94 607.38 L535.69 607.25 L536.45 607.13 L537.20 607.03 L537.95 606.94 L538.70 606.87 L539.46 606.81 L540.21 606.76 L540.96 606.72 L541.71 606.70 L542.46 606.69 L543.22 606.69 L543.97 606.69 L544.72 606.71 L545.47 606.74 L546.22 606.77 L546.98 606.81 L547.73 606.86 L548.48 606.91 L549.23 606.97 L549.98 607.03 L550.74 607.10 L551.49 607.17 L552.24 607.24 L552.99 607.32 L553.75 607.40 L554.50 607.47 L555.25 607.55 L556.00 607.63 L556.75 607.71 L557.51 607.78 L558.26 607.86 L559.01 607.93 L559.76 607.99 L560.51 608.05 L561.27 608.11 L562.02 608.16 L562.77 608.21 L563.52 608.25 L564.27 608.28 L565.03 608.30 L565.78 608.32 L566.53 608.32 L567.28 608.32 L568.04 608.30 L568.79 608.27 L569.54 608.24 L570.29 608.19 L571.04 608.12 L571.80 608.04 L572.55 607.95 L573.30 607.85 L573.30 613.40 L572.55 613.58 L571.80 613.75 L571.04 613.91 L570.29 614.05 L569.54 614.19 L568.79 614.30 L568.04 614.41 L567.28 614.50 L566.53 614.59 L565.78 614.66 L565.03 614.72 L564.27 614.78 L563.52 614.82 L562.77 614.85 L562.02 614.88 L561.27 614.90 L560.51 614.91 L559.76 614.91 L559.01 614.90 L558.26 614.89 L557.51 614.87 L556.75 614.85 L556.00 614.82 L555.25 614.79 L554.50 614.75 L553.75 614.71 L552.99 614.67 L552.24 614.62 L551.49 614.57 L550.74 614.51 L549.98 614.46 L549.23 614.40 L548.48 614.35 L547.73 614.29 L546.98 614.23 L546.22 614.17 L545.47 614.12 L544.72 614.06 L543.97 614.01 L543.22 613.96 L542.46 613.91 L541.71 613.86 L540.96 613.82 L540.21 613.78 L539.46 613.74 L538.70 613.71 L537.95 613.69 L537.20 613.67 L536.45 613.65 L535.69 613.65 L534.94 613.65 L534.19 613.65 L533.44 613.67 L532.69 613.70 L531.93 613.76 L531.18 613.83 L530.43 613.94 L529.68 614.07 L528.93 614.24 L528.17 614.45 L527.42 614.71 L526.67 615.01 L525.92 615.36 L525.17 615.76 L524.41 616.22 L523.66 616.73 L522.91 617.29 L522.16 617.90 L521.40 618.55 L520.65 619.25 L519.90 619.99 L519.15 620.77 L518.40 621.58 L517.64 622.43 L516.89 623.31 L516.14 624.23 L515.39 625.17 L514.64 626.15 L513.88 627.14 L513.13 628.16 L512.38 629.21 L511.63 630.27 L510.88 631.35 L510.12 632.45 L509.37 633.57 L508.62 634.71 L507.87 635.86 L507.11 637.02 L506.36 638.19 L505.61 639.38 L504.86 640.58 L504.11 641.78 L503.35 643.00 L502.60 644.22 L501.85 645.44 L501.10 646.67 L500.35 647.90 L499.59 649.14 L498.84 650.38 L498.09 651.61 L497.34 652.85 L496.59 654.08 L495.83 655.31 L495.08 656.53 L494.33 657.75 L493.58 658.97 L492.82 660.18 L492.07 661.39 L491.32 662.60 L490.57 663.81 L489.82 665.01 L489.06 666.21 L488.31 667.40 L487.56 668.60 L486.81 669.79 L486.06 670.98 L485.30 672.17 L484.55 673.36 L483.80 674.55 L483.05 675.73 L482.30 676.92 L481.54 678.10 L480.79 679.28 L480.04 680.46 L479.29 681.64 L478.53 682.83 L477.78 684.01 L477.03 685.19 L476.28 686.37 L475.53 687.55 L474.77 688.73 L474.02 689.92 L473.27 691.10 L472.52 692.28 L471.77 693.47 L471.01 694.65 L470.26 695.83 L469.51 697.00 L468.76 698.17 L468.00 699.33 L467.25 700.47 L466.50 701.61 L465.75 702.74 L465.00 703.85 L464.24 704.95 L463.49 706.03 L462.74 707.09 L461.99 708.14 L461.24 709.16 L460.48 710.16 L459.73 711.14 L458.98 712.09 L458.23 713.02 L457.48 713.92 L456.72 714.79 L455.97 715.64 L455.22 716.47 L454.47 717.27 L453.71 718.06 L452.96 718.84 L452.21 719.60 L451.46 720.36 L450.71 721.11 L449.95 721.85 L449.20 722.60 L448.45 723.34 L447.70 724.09 L446.95 724.84 L446.19 725.59 L445.44 726.34 L444.69 727.10 L443.94 727.86 L443.19 728.63 L442.43 729.40 L441.68 730.18 L440.93 730.96 L440.18 731.75 L439.42 732.55 L438.67 733.36 L437.92 734.18 L437.17 735.01 L436.42 735.85 L435.66 736.69 L434.91 737.53 L434.16 738.37 L433.41 739.22 L432.66 740.05 L431.90 740.89 L431.15 741.72 L430.40 742.54 L429.65 743.35 L428.90 744.14 L428.14 744.92 L427.39 745.69 L426.64 746.44 L425.89 747.17 L425.13 747.87 L424.38 748.55 L423.63 749.22 L422.88 749.86 L422.13 750.48 L421.37 751.09 L420.62 751.68 L419.87 752.26 L419.12 752.82 L418.37 753.38 L417.61 753.93 L416.86 754.47 L416.11 755.01 L415.36 755.55 L414.61 756.09 L413.85 756.62 L413.10 757.16 L412.35 757.71 L411.60 758.26 L410.84 758.81 L410.09 759.37 L409.34 759.93 L408.59 760.50 L407.84 761.07 L407.08 761.64 L406.33 762.22 L405.58 762.80 L404.83 763.37 L404.08 763.95 L403.32 764.54 L402.57 765.12 L401.82 765.70 L401.07 766.27 L400.32 766.85 L399.56 767.43 L398.81 768.00 L398.06 768.57 L397.31 769.14 L396.55 769.70 L395.80 770.26 L395.05 770.82 L394.30 771.37 L393.55 771.91 L392.79 772.45 L392.04 772.98 L391.29 773.50 L390.54 774.02 L389.79 774.53 L389.03 775.03 L388.28 775.52 L387.53 776.00 L386.78 776.48 L386.03 776.94 L385.27 777.39 L384.52 777.83 L383.77 778.26 L383.02 778.67 L382.26 779.08 L381.51 779.47 L380.76 779.84 L380.01 780.21 L379.26 780.55 L378.50 780.89 L377.75 781.20 L377.00 781.51 Z" fill="#00CED1" stroke="#00CED1" stroke-width="0.5" stroke-linejoin="round"/><path d="M193.00 159.00 C195.83 159.90 203.83 162.40 210.00 164.40 C216.17 166.40 221.67 168.68 230.00 171.00 C238.33 173.32 251.67 176.35 260.00 178.30 C268.33 180.25 273.75 181.47 280.00 182.70 C286.25 183.93 291.83 184.80 297.50 185.70 C303.17 186.60 311.25 187.70 314.00 188.10" stroke="#ffffff" stroke-width="2.2" fill="none" stroke-linejoin="round" stroke-linecap="butt" stroke-dasharray="0.9 4.1"/><path d="M195.00 161.00 C197.50 161.87 204.17 164.23 210.00 166.20 C215.83 168.17 221.67 170.50 230.00 172.80 C238.33 175.10 251.67 178.08 260.00 180.00 C268.33 181.92 273.75 183.10 280.00 184.30 C286.25 185.50 291.83 186.35 297.50 187.20 C303.17 188.05 311.25 189.03 314.00 189.40" stroke="#ffffff" stroke-width="1.6" fill="none" stroke-linejoin="round" stroke-linecap="butt" stroke-dasharray="0.9 4.1" stroke-dashoffset="2.5" opacity="0.7"/><path d="M74.50 120.99 L75.25 119.51 L76.00 118.09 L76.76 116.74 L77.51 115.45 L78.26 114.22 L79.01 113.06 L79.76 111.96 L80.52 110.93 L81.27 109.96 L82.02 109.05 L82.77 108.20 L83.52 107.42 L84.27 106.70 L85.03 106.05 L85.78 105.45 L86.53 104.92 L87.28 104.45 L88.03 104.04 L88.79 103.70 L89.54 103.41 L90.29 103.19 L91.04 103.01 L91.79 102.89 L92.55 102.82 L93.30 102.80 L94.05 102.82 L94.80 102.88 L95.55 102.99 L96.30 103.13 L97.06 103.30 L97.81 103.51 L98.56 103.74 L99.31 104.00 L100.06 104.29 L100.82 104.60 L101.57 104.92 L102.32 105.27 L103.07 105.62 L103.82 105.99 L104.58 106.37 L105.33 106.76 L106.08 107.15 L106.83 107.55 L107.58 107.96 L108.33 108.38 L109.09 108.80 L109.84 109.23 L110.59 109.67 L111.34 110.11 L112.09 110.56 L112.85 111.02 L113.60 111.48 L114.35 111.95 L115.10 112.42 L115.85 112.89 L116.61 113.37 L117.36 113.86 L118.11 114.35 L118.86 114.84 L119.61 115.34 L120.37 115.83 L121.12 116.34 L121.87 116.84 L122.62 117.35 L123.37 117.86 L124.12 118.37 L124.88 118.88 L125.63 119.39 L126.38 119.91 L127.13 120.42 L127.88 120.94 L128.64 121.45 L129.39 121.97 L130.14 122.48 L130.89 123.00 L131.64 123.51 L132.40 124.02 L133.15 124.53 L133.90 125.04 L134.65 125.55 L135.40 126.05 L136.15 126.56 L136.91 127.06 L137.66 127.55 L138.41 128.05 L139.16 128.54 L139.91 129.02 L140.67 129.51 L141.42 129.99 L142.17 130.47 L142.92 130.95 L143.67 131.42 L144.43 131.89 L145.18 132.36 L145.93 132.82 L146.68 133.28 L147.43 133.74 L148.18 134.20 L148.94 134.65 L149.69 135.10 L150.44 135.55 L151.19 135.99 L151.94 136.43 L152.70 136.87 L153.45 137.31 L154.20 137.74 L154.95 138.17 L155.70 138.60 L156.46 139.02 L157.21 139.45 L157.96 139.87 L158.71 140.28 L159.46 140.70 L160.22 141.11 L160.97 141.52 L161.72 141.92 L162.47 142.33 L163.22 142.73 L163.97 143.13 L164.73 143.52 L165.48 143.91 L166.23 144.31 L166.98 144.69 L167.73 145.08 L168.49 145.46 L169.24 145.84 L169.99 146.22 L170.74 146.60 L171.49 146.97 L172.25 147.34 L173.00 147.71 L173.75 148.07 L174.50 148.44 L175.25 148.80 L176.00 149.15 L176.76 149.51 L177.51 149.86 L178.26 150.21 L179.01 150.56 L179.76 150.91 L180.52 151.25 L181.27 151.60 L182.02 151.93 L182.77 152.27 L183.52 152.61 L184.28 152.94 L185.03 153.27 L185.78 153.60 L186.53 153.92 L187.28 154.25 L188.03 154.57 L188.79 154.89 L189.54 155.20 L190.29 155.52 L191.04 155.83 L191.79 156.14 L192.55 156.45 L193.30 156.75 L194.05 157.06 L194.80 157.36 L195.55 157.66 L196.31 157.96 L197.06 158.25 L197.81 158.54 L198.56 158.84 L199.31 159.12 L200.07 159.41 L200.82 159.70 L201.57 159.98 L202.32 160.26 L203.07 160.54 L203.82 160.82 L204.58 161.09 L205.33 161.36 L206.08 161.64 L206.83 161.91 L207.58 162.17 L208.34 162.44 L209.09 162.70 L209.84 162.96 L210.59 163.22 L211.34 163.48 L212.10 163.74 L212.85 163.99 L213.60 164.24 L214.35 164.49 L215.10 164.74 L215.85 164.99 L216.61 165.24 L217.36 165.48 L218.11 165.72 L218.86 165.96 L219.61 166.20 L220.37 166.44 L221.12 166.67 L221.87 166.90 L222.62 167.13 L223.37 167.36 L224.13 167.59 L224.88 167.82 L225.63 168.04 L226.38 168.27 L227.13 168.49 L227.88 168.71 L228.64 168.93 L229.39 169.14 L230.14 169.36 L230.89 169.57 L231.64 169.79 L232.40 170.00 L233.15 170.20 L233.90 170.41 L234.65 170.62 L235.40 170.82 L236.16 171.03 L236.91 171.23 L237.66 171.43 L238.41 171.63 L239.16 171.82 L239.92 172.02 L240.67 172.22 L241.42 172.41 L242.17 172.60 L242.92 172.79 L243.67 172.98 L244.43 173.17 L245.18 173.35 L245.93 173.54 L246.68 173.72 L247.43 173.91 L248.19 174.09 L248.94 174.27 L249.69 174.45 L250.44 174.62 L251.19 174.80 L251.95 174.98 L252.70 175.15 L253.45 175.32 L254.20 175.49 L254.95 175.66 L255.70 175.83 L256.46 176.00 L257.21 176.17 L257.96 176.33 L258.71 176.50 L259.46 176.66 L260.22 176.83 L260.97 176.99 L261.72 177.15 L262.47 177.31 L263.22 177.46 L263.98 177.62 L264.73 177.78 L265.48 177.93 L266.23 178.09 L266.98 178.24 L267.73 178.39 L268.49 178.54 L269.24 178.69 L269.99 178.84 L270.74 178.99 L271.49 179.14 L272.25 179.29 L273.00 179.43 L273.75 179.58 L274.50 179.72 L275.25 179.87 L276.01 180.01 L276.76 180.15 L277.51 180.29 L278.26 180.43 L279.01 180.57 L279.77 180.71 L280.52 180.85 L281.27 180.98 L282.02 181.12 L282.77 181.25 L283.52 181.39 L284.28 181.52 L285.03 181.66 L285.78 181.79 L286.53 181.92 L287.28 182.05 L288.04 182.18 L288.79 182.31 L289.54 182.44 L290.29 182.57 L291.04 182.70 L291.80 182.83 L292.55 182.95 L293.30 183.08 L294.05 183.21 L294.80 183.33 L295.55 183.46 L296.31 183.58 L297.06 183.70 L297.81 183.83 L298.56 183.95 L299.31 184.07 L300.07 184.19 L300.82 184.32 L301.57 184.44 L302.32 184.56 L303.07 184.68 L303.83 184.80 L304.58 184.92 L305.33 185.04 L306.08 185.15 L306.83 185.27 L307.58 185.39 L308.34 185.51 L309.09 185.63 L309.84 185.74 L310.59 185.86 L311.34 185.98 L312.10 186.09 L312.85 186.21 L313.60 186.32" stroke="#000" stroke-width="1.6" fill="none" stroke-linejoin="round" stroke-linecap="round" /><path d="M383.60 72.73 L384.35 71.31 L385.10 69.80 L385.85 68.22 L386.60 66.62 L387.35 65.00 L388.10 63.41 L388.85 61.86 L389.60 60.39 L390.35 59.02 L391.10 57.77 L391.85 56.68 L392.60 55.78 L393.35 55.06 L394.10 54.52 L394.85 54.15 L395.60 53.93 L396.35 53.83 L397.10 53.86 L397.85 54.00 L398.60 54.22 L399.35 54.52 L400.10 54.87 L400.85 55.28 L401.60 55.73 L402.35 56.23 L403.10 56.77 L403.85 57.35 L404.60 57.96 L405.35 58.62 L406.10 59.31 L406.85 60.03 L407.60 60.78 L408.35 61.57 L409.10 62.38 L409.85 63.22 L410.60 64.08 L411.35 64.96 L412.10 65.87 L412.85 66.79 L413.60 67.74 L414.35 68.70 L415.10 69.67 L415.85 70.65 L416.60 71.65 L417.35 72.65 L418.10 73.66 L418.85 74.68 L419.60 75.70 L420.35 76.72 L421.10 77.74 L421.85 78.75 L422.60 79.77 L423.35 80.78 L424.10 81.78 L424.85 82.77 L425.60 83.76 L426.35 84.73 L427.10 85.69 L427.85 86.64 L428.60 87.59 L429.35 88.52 L430.10 89.44 L430.85 90.36 L431.60 91.26 L432.35 92.16 L433.10 93.04 L433.85 93.92 L434.60 94.79 L435.35 95.65 L436.10 96.51 L436.85 97.35 L437.60 98.19 L438.35 99.02 L439.10 99.85 L439.85 100.66 L440.60 101.47 L441.35 102.28 L442.10 103.07 L442.85 103.86 L443.60 104.65 L444.35 105.42 L445.10 106.19 L445.85 106.96 L446.60 107.72 L447.35 108.47 L448.10 109.22 L448.85 109.96 L449.60 110.70 L450.35 111.43 L451.10 112.16 L451.85 112.88 L452.60 113.59 L453.35 114.30 L454.10 115.00 L454.85 115.70 L455.60 116.39 L456.35 117.07 L457.10 117.75 L457.85 118.43 L458.60 119.09 L459.35 119.76 L460.10 120.42 L460.85 121.07 L461.60 121.72 L462.35 122.36 L463.10 123.00 L463.85 123.63 L464.60 124.25 L465.35 124.87 L466.10 125.49 L466.85 126.10 L467.60 126.71 L468.35 127.31 L469.10 127.90 L469.85 128.49 L470.60 129.08 L471.35 129.66 L472.10 130.24 L472.85 130.81 L473.60 131.37 L474.35 131.93 L475.10 132.49 L475.85 133.04 L476.60 133.59 L477.35 134.13 L478.10 134.67 L478.85 135.20 L479.60 135.73 L480.35 136.25 L481.10 136.77 L481.85 137.28 L482.60 137.79 L483.35 138.30 L484.10 138.80 L484.85 139.29 L485.60 139.78 L486.35 140.27 L487.10 140.75 L487.85 141.23 L488.60 141.71 L489.35 142.18 L490.10 142.64 L490.85 143.10 L491.60 143.56 L492.35 144.01 L493.10 144.46 L493.85 144.91 L494.60 145.35 L495.35 145.78 L496.10 146.22 L496.85 146.65 L497.60 147.07 L498.35 147.49 L499.10 147.91 L499.85 148.32 L500.60 148.73 L501.35 149.13 L502.10 149.54 L502.85 149.93 L503.60 150.33 L504.35 150.72 L505.10 151.10 L505.85 151.49 L506.60 151.87 L507.35 152.24 L508.10 152.61 L508.85 152.98 L509.60 153.35 L510.35 153.71 L511.10 154.07 L511.85 154.42 L512.60 154.77 L513.35 155.12 L514.10 155.46 L514.85 155.81 L515.60 156.14 L516.35 156.48 L517.10 156.81 L517.85 157.14 L518.60 157.46 L519.35 157.78 L520.10 158.10 L520.85 158.42 L521.60 158.73 L522.35 159.04 L523.10 159.35 L523.85 159.65 L524.60 159.95 L525.35 160.25 L526.10 160.54 L526.85 160.84 L527.60 161.13 L528.35 161.41 L529.10 161.70 L529.85 161.98 L530.60 162.25 L531.35 162.53 L532.10 162.80 L532.85 163.07 L533.60 163.34 L534.35 163.61 L535.10 163.87 L535.85 164.13 L536.60 164.39 L537.35 164.64 L538.10 164.89 L538.85 165.14 L539.60 165.39 L540.35 165.64 L541.10 165.88 L541.85 166.12 L542.60 166.36 L543.35 166.60 L544.10 166.83 L544.85 167.06 L545.60 167.29 L546.35 167.52 L547.10 167.74 L547.85 167.97 L548.60 168.19 L549.35 168.41 L550.10 168.63 L550.85 168.84 L551.60 169.06 L552.35 169.27 L553.10 169.48 L553.85 169.69 L554.60 169.89 L555.35 170.10 L556.10 170.30 L556.85 170.50 L557.60 170.70 L558.35 170.90 L559.10 171.10 L559.85 171.29 L560.60 171.48 L561.35 171.67 L562.10 171.86 L562.85 172.05 L563.60 172.24 L564.35 172.43 L565.10 172.61 L565.85 172.79 L566.60 172.97 L567.35 173.15 L568.10 173.33 L568.85 173.51 L569.60 173.69 L570.35 173.86 L571.10 174.04 L571.85 174.21 L572.60 174.38 L573.35 174.55 L574.10 174.72 L574.85 174.89 L575.60 175.06 L576.35 175.22 L577.10 175.39 L577.85 175.55 L578.60 175.72 L579.35 175.88 L580.10 176.04 L580.85 176.21 L581.60 176.37 L582.35 176.53 L583.10 176.69 L583.85 176.84 L584.60 177.00 L585.35 177.16 L586.10 177.32 L586.85 177.47 L587.60 177.63 L588.35 177.78 L589.10 177.94 L589.85 178.09 L590.60 178.24 L591.35 178.40 L592.10 178.55 L592.85 178.70 L593.60 178.86 L594.35 179.01 L595.10 179.16 L595.85 179.31 L596.60 179.46 L597.35 179.61 L598.10 179.76 L598.85 179.92 L599.60 180.07 L600.35 180.22 L601.10 180.37 L601.85 180.52 L602.60 180.67 L603.35 180.82 L604.10 180.97 L604.85 181.12 L605.60 181.27 L606.35 181.42 L607.10 181.58 L607.85 181.73 L608.60 181.88 L609.35 182.03 L610.10 182.18 L610.85 182.34 L611.60 182.49 L612.35 182.64 L613.10 182.80 L613.85 182.95 L614.60 183.11 L615.35 183.26 L616.10 183.42 L616.85 183.58 L617.60 183.73 L618.35 183.89 L619.10 184.05 L619.85 184.21 L620.60 184.37 L621.35 184.53 L622.10 184.69 L622.85 184.85 L623.60 185.02 L624.35 185.18 L625.10 185.35" stroke="#000" stroke-width="1.6" fill="none" stroke-linejoin="round" stroke-linecap="round" /><path d="M63.80 507.42 L64.55 507.00 L65.30 506.58 L66.05 506.17 L66.81 505.75 L67.56 505.33 L68.31 504.91 L69.06 504.50 L69.81 504.08 L70.56 503.67 L71.31 503.25 L72.06 502.84 L72.82 502.42 L73.57 502.01 L74.32 501.59 L75.07 501.18 L75.82 500.76 L76.57 500.35 L77.32 499.93 L78.08 499.52 L78.83 499.10 L79.58 498.69 L80.33 498.28 L81.08 497.86 L81.83 497.45 L82.58 497.03 L83.34 496.62 L84.09 496.20 L84.84 495.79 L85.59 495.37 L86.34 494.96 L87.09 494.54 L87.84 494.12 L88.59 493.71 L89.35 493.29 L90.10 492.87 L90.85 492.46 L91.60 492.04 L92.35 491.62 L93.10 491.20 L93.85 490.78 L94.61 490.36 L95.36 489.94 L96.11 489.52 L96.86 489.10 L97.61 488.68 L98.36 488.26 L99.11 487.83 L99.86 487.41 L100.62 486.98 L101.37 486.56 L102.12 486.13 L102.87 485.71 L103.62 485.28 L104.37 484.85 L105.12 484.42 L105.88 483.99 L106.63 483.56 L107.38 483.13 L108.13 482.69 L108.88 482.26 L109.63 481.82 L110.38 481.39 L111.14 480.95 L111.89 480.51 L112.64 480.07 L113.39 479.63 L114.14 479.19 L114.89 478.75 L115.64 478.31 L116.39 477.86 L117.15 477.41 L117.90 476.97 L118.65 476.52 L119.40 476.07 L120.15 475.62 L120.90 475.16 L121.65 474.71 L122.41 474.25 L123.16 473.80 L123.91 473.34 L124.66 472.88 L125.41 472.42 L126.16 471.95 L126.91 471.49 L127.66 471.02 L128.42 470.56 L129.17 470.09 L129.92 469.61 L130.67 469.14 L131.42 468.67 L132.17 468.19 L132.92 467.71 L133.68 467.23 L134.43 466.75 L135.18 466.27 L135.93 465.78 L136.68 465.30 L137.43 464.81 L138.18 464.32 L138.94 463.82 L139.69 463.33 L140.44 462.83 L141.19 462.33 L141.94 461.83 L142.69 461.33 L143.44 460.82 L144.19 460.32 L144.95 459.81 L145.70 459.29 L146.45 458.78 L147.20 458.26 L147.95 457.75 L148.70 457.23 L149.45 456.70 L150.21 456.18 L150.96 455.65 L151.71 455.12 L152.46 454.59 L153.21 454.05 L153.96 453.52 L154.71 452.98 L155.46 452.43 L156.22 451.89 L156.97 451.34 L157.72 450.79 L158.47 450.24 L159.22 449.68 L159.97 449.13 L160.72 448.57 L161.48 448.00 L162.23 447.44 L162.98 446.87 L163.73 446.30 L164.48 445.72 L165.23 445.15 L165.98 444.57 L166.74 443.99 L167.49 443.40 L168.24 442.81 L168.99 442.22 L169.74 441.63 L170.49 441.03 L171.24 440.43 L171.99 439.83 L172.75 439.22 L173.50 438.61 L174.25 438.00 L175.00 437.38 L175.75 436.76 L176.50 436.14 L177.25 435.51 L178.01 434.89 L178.76 434.25 L179.51 433.62 L180.26 432.98 L181.01 432.34 L181.76 431.69 L182.51 431.05 L183.26 430.40 L184.02 429.74 L184.77 429.08 L185.52 428.42 L186.27 427.76 L187.02 427.09 L187.77 426.43 L188.52 425.75 L189.28 425.08 L190.03 424.40 L190.78 423.72 L191.53 423.04 L192.28 422.36 L193.03 421.67 L193.78 420.98 L194.54 420.29 L195.29 419.60 L196.04 418.90 L196.79 418.21 L197.54 417.51 L198.29 416.80 L199.04 416.10 L199.79 415.40 L200.55 414.69 L201.30 413.98 L202.05 413.27 L202.80 412.56 L203.55 411.84 L204.30 411.13 L205.05 410.41 L205.81 409.69 L206.56 408.98 L207.31 408.26 L208.06 407.53 L208.81 406.81 L209.56 406.09 L210.31 405.36 L211.06 404.64 L211.82 403.91 L212.57 403.18 L213.32 402.45 L214.07 401.72 L214.82 400.99 L215.57 400.26 L216.32 399.53 L217.08 398.80 L217.83 398.07 L218.58 397.34 L219.33 396.60 L220.08 395.87 L220.83 395.14 L221.58 394.41 L222.34 393.67 L223.09 392.94 L223.84 392.21 L224.59 391.47 L225.34 390.74 L226.09 390.01 L226.84 389.27 L227.59 388.54 L228.35 387.81 L229.10 387.08 L229.85 386.35 L230.60 385.62 L231.35 384.89 L232.10 384.16 L232.85 383.43 L233.61 382.70 L234.36 381.98 L235.11 381.25 L235.86 380.52 L236.61 379.80 L237.36 379.08 L238.11 378.36 L238.86 377.64 L239.62 376.92 L240.37 376.20 L241.12 375.48 L241.87 374.77 L242.62 374.05 L243.37 373.34 L244.12 372.63 L244.88 371.92 L245.63 371.22 L246.38 370.51 L247.13 369.81 L247.88 369.11 L248.63 368.41 L249.38 367.71 L250.14 367.01 L250.89 366.32 L251.64 365.63 L252.39 364.94 L253.14 364.25 L253.89 363.57 L254.64 362.89 L255.39 362.21 L256.15 361.53 L256.90 360.86 L257.65 360.19 L258.40 359.52 L259.15 358.85 L259.90 358.19 L260.65 357.54 L261.41 356.89 L262.16 356.24 L262.91 355.61 L263.66 354.99 L264.41 354.37 L265.16 353.77 L265.91 353.19 L266.66 352.61 L267.42 352.05 L268.17 351.51 L268.92 350.97 L269.67 350.46 L270.42 349.96 L271.17 349.47 L271.92 348.99 L272.68 348.53 L273.43 348.09 L274.18 347.65 L274.93 347.23 L275.68 346.82 L276.43 346.43 L277.18 346.04 L277.94 345.67 L278.69 345.31 L279.44 344.96 L280.19 344.62 L280.94 344.30 L281.69 343.98 L282.44 343.68 L283.19 343.38 L283.95 343.10 L284.70 342.82 L285.45 342.56 L286.20 342.31 L286.95 342.06 L287.70 341.82 L288.45 341.60 L289.21 341.38 L289.96 341.17 L290.71 340.97 L291.46 340.77 L292.21 340.59 L292.96 340.41 L293.71 340.24 L294.46 340.07 L295.22 339.92 L295.97 339.77 L296.72 339.62 L297.47 339.48 L298.22 339.35 L298.97 339.23 L299.72 339.11 L300.48 338.99 L301.23 338.88 L301.98 338.78 L302.73 338.68 L303.48 338.58 L304.23 338.49 L304.98 338.41 L305.74 338.32 L306.49 338.24 L307.24 338.17 L307.99 338.09 L308.74 338.02 L309.49 337.96 L310.24 337.89 L310.99 337.83 L311.75 337.77 L312.50 337.71 L313.25 337.66 L314.00 337.60" stroke="#000" stroke-width="1.6" fill="none" stroke-linejoin="round" stroke-linecap="round" /><path d="M376.30 507.30 C379.42 504.80 388.80 497.35 395.00 492.30 C401.20 487.25 407.67 482.07 413.50 477.00 C419.33 471.93 424.75 466.90 430.00 461.90 C435.25 456.90 439.17 453.08 445.00 447.00 C450.83 440.92 458.67 432.33 465.00 425.40 C471.33 418.47 477.40 411.73 483.00 405.40 C488.60 399.07 493.38 393.55 498.60 387.40 C503.82 381.25 510.73 372.63 514.30 368.50 C517.87 364.37 517.58 365.03 520.00 362.60 C522.42 360.17 525.88 356.37 528.80 353.90 C531.72 351.43 534.58 349.48 537.50 347.80 C540.42 346.12 543.38 344.90 546.30 343.80 C549.22 342.70 552.08 341.85 555.00 341.20 C557.92 340.55 560.88 340.27 563.80 339.90 C566.72 339.53 569.80 339.23 572.50 339.00 C575.20 338.77 575.42 338.68 580.00 338.50 C584.58 338.32 592.33 338.05 600.00 337.90 C607.67 337.75 621.67 337.65 626.00 337.60" stroke="#000" stroke-width="1.6" fill="none" stroke-linejoin="round" stroke-linecap="round" /><path d="M64.10 780.60 C65.37 780.27 69.47 779.47 71.70 778.60 C73.93 777.73 75.55 776.63 77.50 775.40 C79.45 774.17 81.45 772.57 83.40 771.20 C85.35 769.83 87.27 768.50 89.20 767.20 C91.13 765.90 93.20 764.53 95.00 763.40 C96.80 762.27 98.20 761.40 100.00 760.40 C101.80 759.40 103.85 758.43 105.80 757.40 C107.75 756.37 109.75 755.13 111.70 754.20 C113.65 753.27 115.55 752.47 117.50 751.80 C119.45 751.13 121.75 750.73 123.40 750.20 C125.05 749.67 125.95 749.43 127.40 748.60 C128.85 747.77 130.63 746.43 132.10 745.20 C133.57 743.97 134.88 742.53 136.20 741.20 C137.52 739.87 138.73 738.63 140.00 737.20 C141.27 735.77 142.18 734.25 143.80 732.60 C145.42 730.95 147.75 728.65 149.70 727.30 C151.65 725.95 153.55 725.17 155.50 724.50 C157.45 723.83 159.65 723.67 161.40 723.30 C163.15 722.93 164.45 722.77 166.00 722.30 C167.55 721.83 169.13 721.33 170.70 720.50 C172.27 719.67 174.18 718.28 175.40 717.30 C176.62 716.32 175.30 717.47 178.00 714.60 C180.70 711.73 186.72 705.38 191.60 700.10 C196.48 694.82 203.57 687.03 207.30 682.90 C211.03 678.77 210.28 679.83 214.00 675.30 C217.72 670.77 224.38 662.48 229.60 655.70 C234.82 648.92 241.90 639.05 245.30 634.60 C248.70 630.15 248.62 630.75 250.00 629.00 C251.38 627.25 252.38 625.77 253.60 624.10 C254.82 622.43 256.07 620.58 257.30 619.00 C258.53 617.42 259.78 615.80 261.00 614.60 C262.22 613.40 263.40 612.50 264.60 611.80 C265.80 611.10 266.98 610.72 268.20 610.40 C269.42 610.08 270.07 610.05 271.90 609.90 C273.73 609.75 276.77 609.60 279.20 609.50 C281.63 609.40 283.03 609.33 286.50 609.30 C289.97 609.27 295.42 609.30 300.00 609.30 C304.58 609.30 311.67 609.30 314.00 609.30" stroke="#000" stroke-width="1.6" fill="none" stroke-linejoin="round" stroke-linecap="round" /><path d="M377.00 780.30 C379.65 778.10 387.07 771.60 392.90 767.10 C398.73 762.60 407.72 756.15 412.00 753.30 C416.28 750.45 416.40 751.43 418.60 750.00 C420.80 748.57 423.53 746.35 425.20 744.70 C426.87 743.05 427.48 741.63 428.60 740.10 C429.72 738.57 430.80 737.05 431.90 735.50 C433.00 733.95 434.10 732.13 435.20 730.80 C436.30 729.47 437.40 728.38 438.50 727.50 C439.60 726.62 440.48 726.20 441.80 725.50 C443.12 724.80 444.70 724.28 446.40 723.30 C448.10 722.32 450.10 721.28 452.00 719.60 C453.90 717.92 455.53 716.22 457.80 713.20 C460.07 710.18 462.98 705.42 465.60 701.50 C468.22 697.58 470.88 693.62 473.50 689.70 C476.12 685.78 478.88 681.50 481.30 678.00 C483.72 674.50 485.48 672.43 488.00 668.70 C490.52 664.97 493.58 659.88 496.40 655.60 C499.22 651.32 502.08 647.35 504.90 643.00 C507.72 638.65 510.92 633.30 513.30 629.50 C515.68 625.70 517.52 622.52 519.20 620.20 C520.88 617.88 521.85 616.88 523.40 615.60 C524.95 614.32 526.07 613.27 528.50 612.50 C530.93 611.73 534.42 611.28 538.00 611.00 C541.58 610.72 543.00 610.83 550.00 610.80 C557.00 610.77 567.33 610.80 580.00 610.80 C592.67 610.80 618.33 610.80 626.00 610.80" stroke="#000" stroke-width="1.6" fill="none" stroke-linejoin="round" stroke-linecap="round" /><text x="65.00" y="252.40" font-size="18" text-anchor="middle" >0</text><text x="114.86" y="252.40" font-size="18" text-anchor="middle" >20</text><text x="164.72" y="252.40" font-size="18" text-anchor="middle" >40</text><text x="214.58" y="252.40" font-size="18" text-anchor="middle" >60</text><text x="264.44" y="252.40" font-size="18" text-anchor="middle" >80</text><text x="314.30" y="252.40" font-size="18" text-anchor="middle" >100</text><text x="59.50" y="238.20" font-size="18" text-anchor="end" >0</text><text x="59.50" y="138.45" font-size="18" text-anchor="end" >5</text><text x="59.50" y="38.70" font-size="18" text-anchor="end" >10</text><text x="376.70" y="252.40" font-size="18" text-anchor="middle" >0</text><text x="426.56" y="252.40" font-size="18" text-anchor="middle" >20</text><text x="476.42" y="252.40" font-size="18" text-anchor="middle" >40</text><text x="526.28" y="252.40" font-size="18" text-anchor="middle" >60</text><text x="576.14" y="252.40" font-size="18" text-anchor="middle" >80</text><text x="626.00" y="252.40" font-size="18" text-anchor="middle" >100</text><text x="371.20" y="238.20" font-size="18" text-anchor="end" >0</text><text x="371.20" y="138.45" font-size="18" text-anchor="end" >5</text><text x="371.20" y="38.70" font-size="18" text-anchor="end" >10</text><text x="65.00" y="527.20" font-size="18" text-anchor="middle" >0</text><text x="141.68" y="527.20" font-size="18" text-anchor="middle" >20</text><text x="218.35" y="527.20" font-size="18" text-anchor="middle" >40</text><text x="295.03" y="527.20" font-size="18" text-anchor="middle" >60</text><text x="59.50" y="513.00" font-size="18" text-anchor="end" >0</text><text x="59.50" y="413.35" font-size="18" text-anchor="end" >0.5</text><text x="59.50" y="313.70" font-size="18" text-anchor="end" >1.0</text><text x="320.70" y="513.00" font-size="18" text-anchor="start" >0</text><text x="320.70" y="413.35" font-size="18" text-anchor="start" >5</text><text x="320.70" y="313.70" font-size="18" text-anchor="start" >10</text><text x="376.70" y="527.20" font-size="18" text-anchor="middle" >0</text><text x="453.41" y="527.20" font-size="18" text-anchor="middle" >20</text><text x="530.12" y="527.20" font-size="18" text-anchor="middle" >40</text><text x="606.82" y="527.20" font-size="18" text-anchor="middle" >60</text><text x="371.20" y="513.00" font-size="18" text-anchor="end" >0</text><text x="371.20" y="413.35" font-size="18" text-anchor="end" >0.5</text><text x="371.20" y="313.70" font-size="18" text-anchor="end" >1.0</text><text x="632.50" y="513.00" font-size="18" text-anchor="start" >0</text><text x="632.50" y="413.35" font-size="18" text-anchor="start" >5</text><text x="632.50" y="313.70" font-size="18" text-anchor="start" >10</text><text x="64.80" y="800.20" font-size="18" text-anchor="middle" >0</text><text x="141.51" y="800.20" font-size="18" text-anchor="middle" >20</text><text x="218.22" y="800.20" font-size="18" text-anchor="middle" >40</text><text x="294.92" y="800.20" font-size="18" text-anchor="middle" >60</text><text x="59.30" y="786.00" font-size="18" text-anchor="end" >0</text><text x="59.30" y="686.35" font-size="18" text-anchor="end" >0.5</text><text x="59.30" y="586.70" font-size="18" text-anchor="end" >1.0</text><text x="320.60" y="786.00" font-size="18" text-anchor="start" >0</text><text x="320.60" y="686.35" font-size="18" text-anchor="start" >5</text><text x="320.60" y="586.70" font-size="18" text-anchor="start" >10</text><text x="376.70" y="800.20" font-size="18" text-anchor="middle" >0</text><text x="453.41" y="800.20" font-size="18" text-anchor="middle" >20</text><text x="530.12" y="800.20" font-size="18" text-anchor="middle" >40</text><text x="606.82" y="800.20" font-size="18" text-anchor="middle" >60</text><text x="371.20" y="786.00" font-size="18" text-anchor="end" >0</text><text x="371.20" y="686.35" font-size="18" text-anchor="end" >0.5</text><text x="371.20" y="586.70" font-size="18" text-anchor="end" >1.0</text><text x="632.50" y="786.00" font-size="18" text-anchor="start" >0</text><text x="632.50" y="686.35" font-size="18" text-anchor="start" >5</text><text x="632.50" y="586.70" font-size="18" text-anchor="start" >10</text><text x="189.65" y="16.00" font-size="21.2" text-anchor="middle" ><tspan>Ba</tspan><tspan dy="4.0" font-size="13.2">3</tspan><tspan dy="-4.0">ReO</tspan><tspan dy="4.0" font-size="13.2">5</tspan><tspan dy="-4.0">Cl</tspan><tspan dy="4.0" font-size="13.2">2</tspan></text><text x="501.35" y="16.00" font-size="21.2" text-anchor="middle" ><tspan>Ba</tspan><tspan dy="4.0" font-size="13.2">3</tspan><tspan dy="-4.0">ReO</tspan><tspan dy="4.0" font-size="13.2">5</tspan><tspan dy="-4.0">Br</tspan><tspan dy="4.0" font-size="13.2">2</tspan></text><text x="190.65" y="280.30" font-size="20.6" text-anchor="middle" ><tspan font-style="italic">T</tspan><tspan> (K)</tspan></text><text x="502.35" y="280.30" font-size="20.6" text-anchor="middle" ><tspan font-style="italic">T</tspan><tspan> (K)</tspan></text><text x="189.60" y="552.80" font-size="21.2" text-anchor="middle" ><tspan font-style="italic">μ</tspan><tspan dy="3.8" font-size="15.3">0</tspan><tspan dy="-3.8" font-style="italic">H</tspan><tspan> (T)</tspan></text><text x="501.35" y="552.80" font-size="21.2" text-anchor="middle" ><tspan font-style="italic">μ</tspan><tspan dy="3.8" font-size="15.3">0</tspan><tspan dy="-3.8" font-style="italic">H</tspan><tspan> (T)</tspan></text><text x="189.45" y="825.80" font-size="21.2" text-anchor="middle" ><tspan font-style="italic">μ</tspan><tspan dy="3.8" font-size="15.3">0</tspan><tspan dy="-3.8" font-style="italic">H</tspan><tspan> (T)</tspan></text><text x="501.35" y="825.80" font-size="21.2" text-anchor="middle" ><tspan font-style="italic">μ</tspan><tspan dy="3.8" font-size="15.3">0</tspan><tspan dy="-3.8" font-style="italic">H</tspan><tspan> (T)</tspan></text><text transform="translate(21.00 133.00) rotate(-90)" font-size="20" text-anchor="middle"><tspan font-style="italic">M</tspan><tspan>/</tspan><tspan font-style="italic">H</tspan><tspan> − </tspan><tspan font-style="italic">χ</tspan><tspan dy="4.5" font-size="13.5">0</tspan><tspan dy="-4.5"> (10</tspan><tspan dy="-11.2" font-size="13.5">-3</tspan><tspan dy="11.2"> cm</tspan><tspan dy="-11.2" font-size="13.5">3</tspan><tspan dy="11.2"> mol</tspan><tspan dy="-11.2" font-size="13.5">-1</tspan><tspan dy="11.2">)</tspan></text><text transform="translate(21.10 406.25) rotate(-90)" font-size="22.0" text-anchor="middle"><tspan font-style="italic">M</tspan><tspan> (</tspan><tspan font-style="italic">μ</tspan><tspan dy="3.74" font-size="15.84">B</tspan><tspan dy="-3.74">/Re)</tspan></text><text transform="translate(22.90 680.30) rotate(-90)" font-size="23.7" text-anchor="middle"><tspan font-style="italic">M</tspan><tspan> (</tspan><tspan font-style="italic">μ</tspan><tspan dy="4.029" font-size="17.064">B</tspan><tspan dy="-4.029">/Re)</tspan></text><text transform="translate(664.00 407.65) rotate(90)" font-size="20" text-anchor="middle"><tspan font-style="italic">dM</tspan><tspan>/</tspan><tspan font-style="italic">d</tspan><tspan>(</tspan><tspan font-style="italic">μ</tspan><tspan dy="4.5" font-size="13.5">0</tspan><tspan dy="-4.5" font-style="italic">H</tspan><tspan>) (10</tspan><tspan dy="-10.8" font-size="13.5">-2</tspan><tspan dy="10.8"> </tspan><tspan dx="2.0" font-style="italic">μ</tspan><tspan dy="4.5" font-size="13.5">B</tspan><tspan dy="-4.5">/Re T)</tspan></text><text transform="translate(664.00 680.65) rotate(90)" font-size="20" text-anchor="middle"><tspan font-style="italic">dM</tspan><tspan>/</tspan><tspan font-style="italic">d</tspan><tspan>(</tspan><tspan font-style="italic">μ</tspan><tspan dy="4.5" font-size="13.5">0</tspan><tspan dy="-4.5" font-style="italic">H</tspan><tspan>) (10</tspan><tspan dy="-10.8" font-size="13.5">-2</tspan><tspan dy="10.8"> </tspan><tspan dx="2.0" font-style="italic">μ</tspan><tspan dy="4.5" font-size="13.5">B</tspan><tspan dy="-4.5">/Re T)</tspan></text><text x="83.00" y="209.00" font-size="24" text-anchor="start" font-weight="bold">a</text><text x="394.20" y="209.00" font-size="24" text-anchor="start" font-weight="bold">b</text><text x="83.00" y="344.50" font-size="24" text-anchor="start" font-weight="bold">c</text><text x="394.70" y="344.50" font-size="24" text-anchor="start" font-weight="bold">d</text><text x="82.80" y="617.50" font-size="24" text-anchor="start" font-weight="bold">e</text><text x="394.70" y="617.50" font-size="24" text-anchor="start" font-weight="bold">f</text><text x="112.60" y="344.80" font-size="18.8" text-anchor="start" ><tspan font-style="italic">T</tspan><tspan> = 4.2 K</tspan></text><text x="424.20" y="344.80" font-size="18.8" text-anchor="start" ><tspan font-style="italic">T</tspan><tspan> = 4.2 K</tspan></text><text x="112.20" y="617.80" font-size="18.8" text-anchor="start" ><tspan font-style="italic">T</tspan><tspan> = 1.3 K</tspan></text><text x="417.80" y="617.80" font-size="18.8" text-anchor="start" ><tspan font-style="italic">T</tspan><tspan> = 1.3 K</tspan></text><path d="M164.2 70.8H213.5" stroke="#000" stroke-width="1.6"/><text x="223.20" y="77.40" font-size="19" text-anchor="start" >OFTLM</text><path d="M475.9 70.8H525.2" stroke="#000" stroke-width="1.6"/><text x="534.90" y="77.40" font-size="19" text-anchor="start" >OFTLM</text></svg>
</body></html>
